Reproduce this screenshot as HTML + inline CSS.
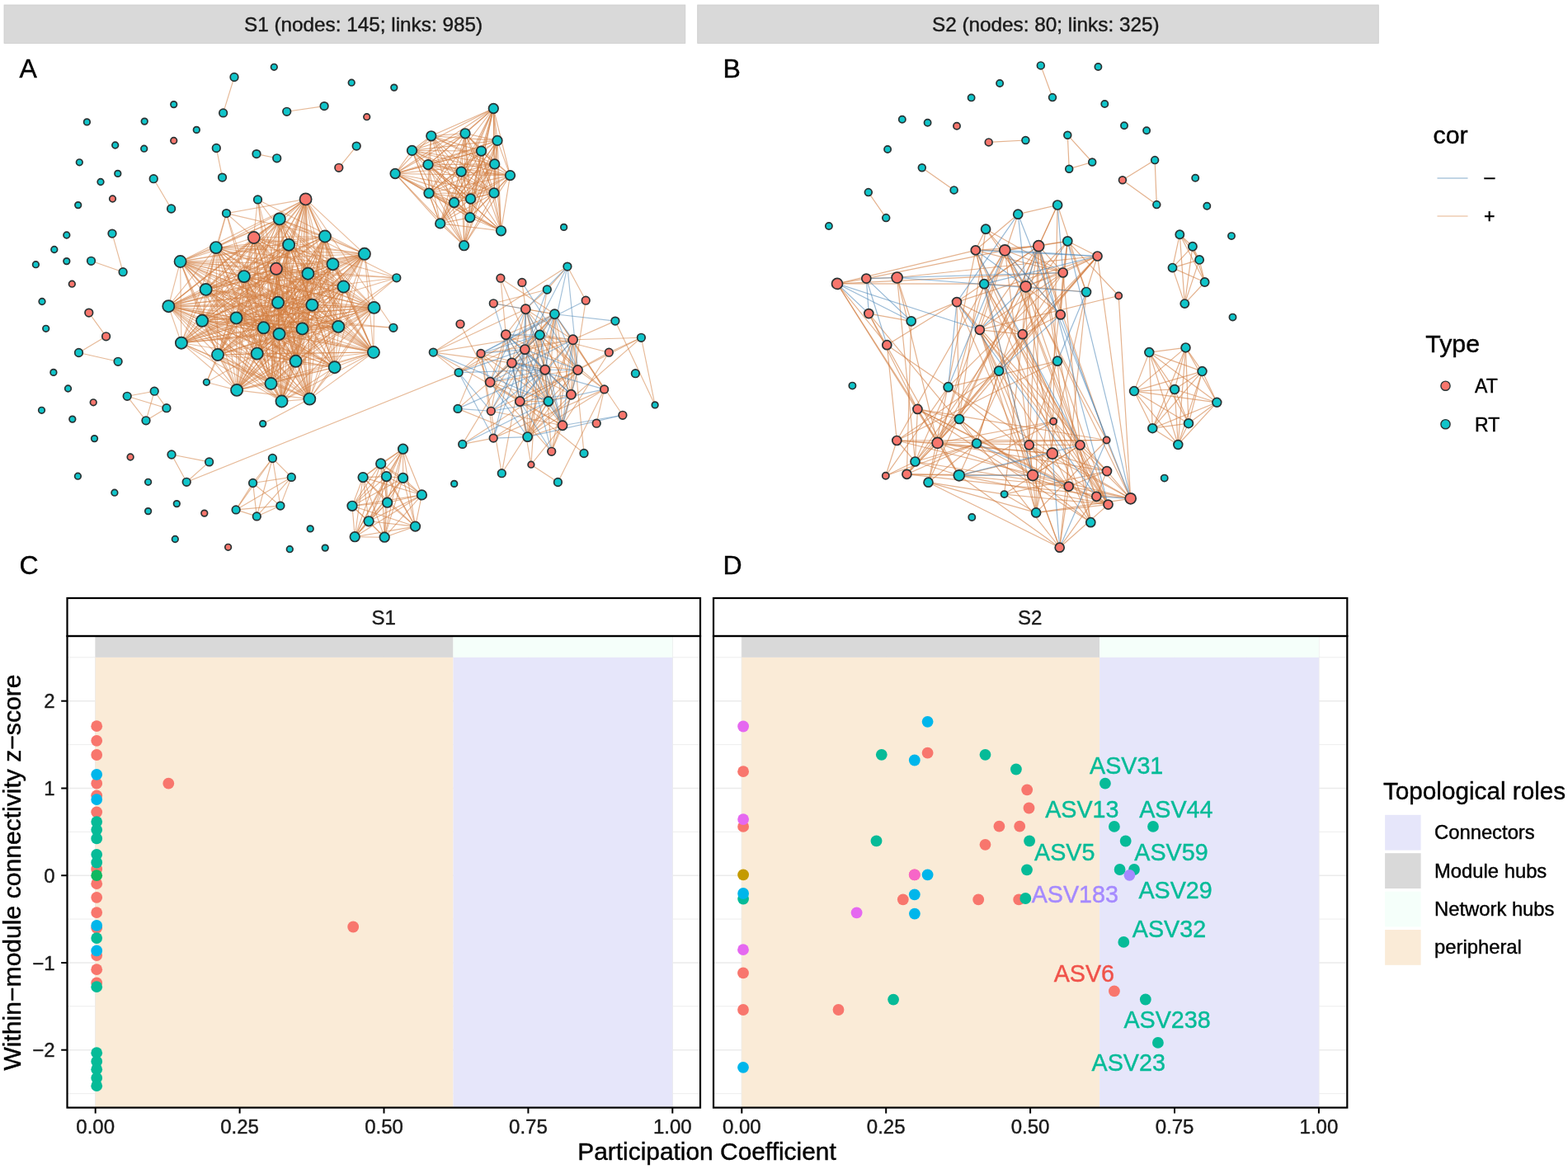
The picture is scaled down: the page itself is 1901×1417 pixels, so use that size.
<!DOCTYPE html>
<html><head><meta charset="utf-8"><title>Network figure</title>
<style>html,body{margin:0;padding:0;background:#fff;width:1901px;height:1417px;overflow:hidden}svg{display:block}</style>
</head><body>
<svg width="1901" height="1417" viewBox="0 0 1901 1417" font-family="'Liberation Sans', Arial, Helvetica, sans-serif">
<rect width="1901" height="1417" fill="#fff"/>
<rect x="5" y="6" width="825.8" height="46.4" fill="#D9D9D9" stroke="#CCCCCC" stroke-width="0.8"/>
<rect x="845.7" y="6" width="825.6" height="46.4" fill="#D9D9D9" stroke="#CCCCCC" stroke-width="0.8"/>
<text x="296" y="37.8" font-size="24.3" fill="#1A1A1A" stroke="#1A1A1A" stroke-width="0.42">S1 (nodes: 145; links: 985)</text>
<text x="1130" y="37.8" font-size="24.3" fill="#1A1A1A" stroke="#1A1A1A" stroke-width="0.42">S2 (nodes: 80; links: 325)</text>
<text x="23.5" y="94" font-size="32" fill="#000" stroke="#000" stroke-width="0.42">A</text>
<text x="876.5" y="94" font-size="32" fill="#000" stroke="#000" stroke-width="0.42">B</text>
<text x="23.5" y="696" font-size="32" fill="#000" stroke="#000" stroke-width="0.42">C</text>
<text x="876.5" y="696" font-size="32" fill="#000" stroke="#000" stroke-width="0.42">D</text>
<g stroke-linecap="round">
<g stroke="#D27F42" stroke-opacity="0.52" stroke-width="1.1" fill="none">
<path d="M312.5 241.9L441.9 307.8"/><path d="M312.5 241.9L338.5 404.9"/><path d="M312.5 241.9L452.9 427"/><path d="M312.5 241.9L287.1 472.9"/><path d="M312.5 241.9L341.5 486.5"/><path d="M312.5 241.9L375.3 483.6"/><path d="M370.6 241.4L274.5 258.6"/><path d="M370.6 241.4L338.8 265.4"/><path d="M370.6 241.4L307.8 288"/><path d="M370.6 241.4L394 286.5"/><path d="M370.6 241.4L261.9 300.1"/><path d="M370.6 241.4L350.1 296.7"/><path d="M370.6 241.4L218.6 317"/><path d="M370.6 241.4L334.9 325.8"/><path d="M370.6 241.4L373.4 331.7"/><path d="M370.6 241.4L295.9 335.1"/><path d="M370.6 241.4L403.5 320.2"/><path d="M370.6 241.4L441.9 307.8"/><path d="M370.6 241.4L249.6 350.9"/><path d="M370.6 241.4L204.3 371.2"/><path d="M370.6 241.4L378.4 369.7"/><path d="M370.6 241.4L416.5 347.5"/><path d="M370.6 241.4L245.1 388.8"/><path d="M370.6 241.4L286.5 385.4"/><path d="M370.6 241.4L319.6 397.3"/><path d="M370.6 241.4L338.5 404.9"/><path d="M370.6 241.4L366.5 398.4"/><path d="M370.6 241.4L410.2 395.9"/><path d="M370.6 241.4L476.9 397.3"/><path d="M370.6 241.4L264 430"/><path d="M370.6 241.4L311.7 428.6"/><path d="M370.6 241.4L358.6 437.8"/><path d="M370.6 241.4L405.7 445.2"/><path d="M370.6 241.4L452.9 427"/><path d="M370.6 241.4L328.5 465"/><path d="M370.6 241.4L287.1 472.9"/><path d="M370.6 241.4L341.5 486.5"/><path d="M370.6 241.4L375.3 483.6"/><path d="M274.5 258.6L307.8 288"/><path d="M274.5 258.6L394 286.5"/><path d="M274.5 258.6L261.9 300.1"/><path d="M274.5 258.6L249.6 350.9"/><path d="M274.5 258.6L319.6 397.3"/><path d="M274.5 258.6L328.5 465"/><path d="M338.8 265.4L307.8 288"/><path d="M338.8 265.4L394 286.5"/><path d="M338.8 265.4L261.9 300.1"/><path d="M338.8 265.4L350.1 296.7"/><path d="M338.8 265.4L218.6 317"/><path d="M338.8 265.4L334.9 325.8"/><path d="M338.8 265.4L373.4 331.7"/><path d="M338.8 265.4L295.9 335.1"/><path d="M338.8 265.4L403.5 320.2"/><path d="M338.8 265.4L441.9 307.8"/><path d="M338.8 265.4L480.8 336.8"/><path d="M338.8 265.4L249.6 350.9"/><path d="M338.8 265.4L204.3 371.2"/><path d="M338.8 265.4L337 366.8"/><path d="M338.8 265.4L378.4 369.7"/><path d="M338.8 265.4L416.5 347.5"/><path d="M338.8 265.4L453.5 372.9"/><path d="M338.8 265.4L245.1 388.8"/><path d="M338.8 265.4L286.5 385.4"/><path d="M338.8 265.4L338.5 404.9"/><path d="M338.8 265.4L366.5 398.4"/><path d="M338.8 265.4L410.2 395.9"/><path d="M338.8 265.4L264 430"/><path d="M338.8 265.4L311.7 428.6"/><path d="M338.8 265.4L358.6 437.8"/><path d="M338.8 265.4L405.7 445.2"/><path d="M338.8 265.4L452.9 427"/><path d="M338.8 265.4L328.5 465"/><path d="M338.8 265.4L287.1 472.9"/><path d="M338.8 265.4L375.3 483.6"/><path d="M307.8 288L394 286.5"/><path d="M307.8 288L350.1 296.7"/><path d="M307.8 288L218.6 317"/><path d="M307.8 288L334.9 325.8"/><path d="M307.8 288L295.9 335.1"/><path d="M307.8 288L403.5 320.2"/><path d="M307.8 288L441.9 307.8"/><path d="M307.8 288L480.8 336.8"/><path d="M307.8 288L249.6 350.9"/><path d="M307.8 288L204.3 371.2"/><path d="M307.8 288L337 366.8"/><path d="M307.8 288L378.4 369.7"/><path d="M307.8 288L416.5 347.5"/><path d="M307.8 288L453.5 372.9"/><path d="M307.8 288L245.1 388.8"/><path d="M307.8 288L286.5 385.4"/><path d="M307.8 288L319.6 397.3"/><path d="M307.8 288L366.5 398.4"/><path d="M307.8 288L410.2 395.9"/><path d="M307.8 288L219.9 415.7"/><path d="M307.8 288L264 430"/><path d="M307.8 288L311.7 428.6"/><path d="M307.8 288L358.6 437.8"/><path d="M307.8 288L405.7 445.2"/><path d="M307.8 288L452.9 427"/><path d="M307.8 288L328.5 465"/><path d="M307.8 288L341.5 486.5"/><path d="M307.8 288L375.3 483.6"/><path d="M394 286.5L261.9 300.1"/><path d="M394 286.5L350.1 296.7"/><path d="M394 286.5L218.6 317"/><path d="M394 286.5L373.4 331.7"/><path d="M394 286.5L295.9 335.1"/><path d="M394 286.5L403.5 320.2"/><path d="M394 286.5L441.9 307.8"/><path d="M394 286.5L249.6 350.9"/><path d="M394 286.5L204.3 371.2"/><path d="M394 286.5L337 366.8"/><path d="M394 286.5L378.4 369.7"/><path d="M394 286.5L416.5 347.5"/><path d="M394 286.5L245.1 388.8"/><path d="M394 286.5L319.6 397.3"/><path d="M394 286.5L338.5 404.9"/><path d="M394 286.5L366.5 398.4"/><path d="M394 286.5L410.2 395.9"/><path d="M394 286.5L219.9 415.7"/><path d="M394 286.5L311.7 428.6"/><path d="M394 286.5L358.6 437.8"/><path d="M394 286.5L405.7 445.2"/><path d="M394 286.5L452.9 427"/><path d="M394 286.5L328.5 465"/><path d="M394 286.5L287.1 472.9"/><path d="M394 286.5L341.5 486.5"/><path d="M394 286.5L375.3 483.6"/><path d="M261.9 300.1L350.1 296.7"/><path d="M261.9 300.1L218.6 317"/><path d="M261.9 300.1L334.9 325.8"/><path d="M261.9 300.1L373.4 331.7"/><path d="M261.9 300.1L403.5 320.2"/><path d="M261.9 300.1L441.9 307.8"/><path d="M261.9 300.1L249.6 350.9"/><path d="M261.9 300.1L204.3 371.2"/><path d="M261.9 300.1L337 366.8"/><path d="M261.9 300.1L378.4 369.7"/><path d="M261.9 300.1L453.5 372.9"/><path d="M261.9 300.1L245.1 388.8"/><path d="M261.9 300.1L286.5 385.4"/><path d="M261.9 300.1L338.5 404.9"/><path d="M261.9 300.1L366.5 398.4"/><path d="M261.9 300.1L410.2 395.9"/><path d="M261.9 300.1L219.9 415.7"/><path d="M261.9 300.1L264 430"/><path d="M261.9 300.1L311.7 428.6"/><path d="M261.9 300.1L358.6 437.8"/><path d="M261.9 300.1L452.9 427"/><path d="M261.9 300.1L328.5 465"/><path d="M261.9 300.1L287.1 472.9"/><path d="M261.9 300.1L341.5 486.5"/><path d="M261.9 300.1L375.3 483.6"/><path d="M350.1 296.7L218.6 317"/><path d="M350.1 296.7L334.9 325.8"/><path d="M350.1 296.7L373.4 331.7"/><path d="M350.1 296.7L295.9 335.1"/><path d="M350.1 296.7L403.5 320.2"/><path d="M350.1 296.7L441.9 307.8"/><path d="M350.1 296.7L249.6 350.9"/><path d="M350.1 296.7L204.3 371.2"/><path d="M350.1 296.7L337 366.8"/><path d="M350.1 296.7L378.4 369.7"/><path d="M350.1 296.7L416.5 347.5"/><path d="M350.1 296.7L245.1 388.8"/><path d="M350.1 296.7L286.5 385.4"/><path d="M350.1 296.7L319.6 397.3"/><path d="M350.1 296.7L338.5 404.9"/><path d="M350.1 296.7L410.2 395.9"/><path d="M350.1 296.7L219.9 415.7"/><path d="M350.1 296.7L264 430"/><path d="M350.1 296.7L311.7 428.6"/><path d="M350.1 296.7L358.6 437.8"/><path d="M350.1 296.7L405.7 445.2"/><path d="M350.1 296.7L452.9 427"/><path d="M350.1 296.7L328.5 465"/><path d="M350.1 296.7L341.5 486.5"/><path d="M350.1 296.7L375.3 483.6"/><path d="M218.6 317L334.9 325.8"/><path d="M218.6 317L373.4 331.7"/><path d="M218.6 317L295.9 335.1"/><path d="M218.6 317L403.5 320.2"/><path d="M218.6 317L441.9 307.8"/><path d="M218.6 317L249.6 350.9"/><path d="M218.6 317L204.3 371.2"/><path d="M218.6 317L337 366.8"/><path d="M218.6 317L378.4 369.7"/><path d="M218.6 317L416.5 347.5"/><path d="M218.6 317L453.5 372.9"/><path d="M218.6 317L245.1 388.8"/><path d="M218.6 317L286.5 385.4"/><path d="M218.6 317L319.6 397.3"/><path d="M218.6 317L338.5 404.9"/><path d="M218.6 317L366.5 398.4"/><path d="M218.6 317L410.2 395.9"/><path d="M218.6 317L219.9 415.7"/><path d="M218.6 317L264 430"/><path d="M218.6 317L405.7 445.2"/><path d="M218.6 317L452.9 427"/><path d="M218.6 317L328.5 465"/><path d="M218.6 317L287.1 472.9"/><path d="M218.6 317L375.3 483.6"/><path d="M334.9 325.8L373.4 331.7"/><path d="M334.9 325.8L295.9 335.1"/><path d="M334.9 325.8L441.9 307.8"/><path d="M334.9 325.8L480.8 336.8"/><path d="M334.9 325.8L249.6 350.9"/><path d="M334.9 325.8L204.3 371.2"/><path d="M334.9 325.8L337 366.8"/><path d="M334.9 325.8L378.4 369.7"/><path d="M334.9 325.8L416.5 347.5"/><path d="M334.9 325.8L453.5 372.9"/><path d="M334.9 325.8L245.1 388.8"/><path d="M334.9 325.8L286.5 385.4"/><path d="M334.9 325.8L319.6 397.3"/><path d="M334.9 325.8L338.5 404.9"/><path d="M334.9 325.8L410.2 395.9"/><path d="M334.9 325.8L219.9 415.7"/><path d="M334.9 325.8L264 430"/><path d="M334.9 325.8L311.7 428.6"/><path d="M334.9 325.8L358.6 437.8"/><path d="M334.9 325.8L405.7 445.2"/><path d="M334.9 325.8L452.9 427"/><path d="M334.9 325.8L328.5 465"/><path d="M334.9 325.8L287.1 472.9"/><path d="M334.9 325.8L341.5 486.5"/><path d="M334.9 325.8L375.3 483.6"/><path d="M373.4 331.7L403.5 320.2"/><path d="M373.4 331.7L441.9 307.8"/><path d="M373.4 331.7L480.8 336.8"/><path d="M373.4 331.7L204.3 371.2"/><path d="M373.4 331.7L337 366.8"/><path d="M373.4 331.7L378.4 369.7"/><path d="M373.4 331.7L416.5 347.5"/><path d="M373.4 331.7L453.5 372.9"/><path d="M373.4 331.7L245.1 388.8"/><path d="M373.4 331.7L286.5 385.4"/><path d="M373.4 331.7L319.6 397.3"/><path d="M373.4 331.7L338.5 404.9"/><path d="M373.4 331.7L366.5 398.4"/><path d="M373.4 331.7L219.9 415.7"/><path d="M373.4 331.7L264 430"/><path d="M373.4 331.7L311.7 428.6"/><path d="M373.4 331.7L358.6 437.8"/><path d="M373.4 331.7L405.7 445.2"/><path d="M373.4 331.7L452.9 427"/><path d="M373.4 331.7L328.5 465"/><path d="M373.4 331.7L287.1 472.9"/><path d="M373.4 331.7L341.5 486.5"/><path d="M373.4 331.7L375.3 483.6"/><path d="M295.9 335.1L441.9 307.8"/><path d="M295.9 335.1L249.6 350.9"/><path d="M295.9 335.1L204.3 371.2"/><path d="M295.9 335.1L416.5 347.5"/><path d="M295.9 335.1L453.5 372.9"/><path d="M295.9 335.1L286.5 385.4"/><path d="M295.9 335.1L319.6 397.3"/><path d="M295.9 335.1L338.5 404.9"/><path d="M295.9 335.1L366.5 398.4"/><path d="M295.9 335.1L410.2 395.9"/><path d="M295.9 335.1L219.9 415.7"/><path d="M295.9 335.1L264 430"/><path d="M295.9 335.1L311.7 428.6"/><path d="M295.9 335.1L358.6 437.8"/><path d="M295.9 335.1L405.7 445.2"/><path d="M295.9 335.1L452.9 427"/><path d="M295.9 335.1L328.5 465"/><path d="M295.9 335.1L287.1 472.9"/><path d="M295.9 335.1L375.3 483.6"/><path d="M403.5 320.2L441.9 307.8"/><path d="M403.5 320.2L249.6 350.9"/><path d="M403.5 320.2L204.3 371.2"/><path d="M403.5 320.2L378.4 369.7"/><path d="M403.5 320.2L453.5 372.9"/><path d="M403.5 320.2L245.1 388.8"/><path d="M403.5 320.2L319.6 397.3"/><path d="M403.5 320.2L338.5 404.9"/><path d="M403.5 320.2L366.5 398.4"/><path d="M403.5 320.2L264 430"/><path d="M403.5 320.2L311.7 428.6"/><path d="M403.5 320.2L405.7 445.2"/><path d="M403.5 320.2L452.9 427"/><path d="M403.5 320.2L287.1 472.9"/><path d="M403.5 320.2L341.5 486.5"/><path d="M441.9 307.8L249.6 350.9"/><path d="M441.9 307.8L204.3 371.2"/><path d="M441.9 307.8L337 366.8"/><path d="M441.9 307.8L378.4 369.7"/><path d="M441.9 307.8L416.5 347.5"/><path d="M441.9 307.8L453.5 372.9"/><path d="M441.9 307.8L245.1 388.8"/><path d="M441.9 307.8L286.5 385.4"/><path d="M441.9 307.8L319.6 397.3"/><path d="M441.9 307.8L338.5 404.9"/><path d="M441.9 307.8L366.5 398.4"/><path d="M441.9 307.8L410.2 395.9"/><path d="M441.9 307.8L219.9 415.7"/><path d="M441.9 307.8L264 430"/><path d="M441.9 307.8L311.7 428.6"/><path d="M441.9 307.8L358.6 437.8"/><path d="M441.9 307.8L405.7 445.2"/><path d="M441.9 307.8L452.9 427"/><path d="M441.9 307.8L328.5 465"/><path d="M441.9 307.8L287.1 472.9"/><path d="M441.9 307.8L341.5 486.5"/><path d="M480.8 336.8L204.3 371.2"/><path d="M480.8 336.8L410.2 395.9"/><path d="M480.8 336.8L219.9 415.7"/><path d="M480.8 336.8L287.1 472.9"/><path d="M249.6 350.9L204.3 371.2"/><path d="M249.6 350.9L337 366.8"/><path d="M249.6 350.9L378.4 369.7"/><path d="M249.6 350.9L453.5 372.9"/><path d="M249.6 350.9L245.1 388.8"/><path d="M249.6 350.9L286.5 385.4"/><path d="M249.6 350.9L319.6 397.3"/><path d="M249.6 350.9L338.5 404.9"/><path d="M249.6 350.9L366.5 398.4"/><path d="M249.6 350.9L410.2 395.9"/><path d="M249.6 350.9L219.9 415.7"/><path d="M249.6 350.9L311.7 428.6"/><path d="M249.6 350.9L358.6 437.8"/><path d="M249.6 350.9L405.7 445.2"/><path d="M249.6 350.9L287.1 472.9"/><path d="M249.6 350.9L341.5 486.5"/><path d="M204.3 371.2L337 366.8"/><path d="M204.3 371.2L378.4 369.7"/><path d="M204.3 371.2L416.5 347.5"/><path d="M204.3 371.2L453.5 372.9"/><path d="M204.3 371.2L245.1 388.8"/><path d="M204.3 371.2L286.5 385.4"/><path d="M204.3 371.2L319.6 397.3"/><path d="M204.3 371.2L338.5 404.9"/><path d="M204.3 371.2L366.5 398.4"/><path d="M204.3 371.2L476.9 397.3"/><path d="M204.3 371.2L219.9 415.7"/><path d="M204.3 371.2L264 430"/><path d="M204.3 371.2L311.7 428.6"/><path d="M204.3 371.2L358.6 437.8"/><path d="M204.3 371.2L405.7 445.2"/><path d="M204.3 371.2L452.9 427"/><path d="M204.3 371.2L328.5 465"/><path d="M204.3 371.2L287.1 472.9"/><path d="M204.3 371.2L341.5 486.5"/><path d="M204.3 371.2L375.3 483.6"/><path d="M337 366.8L378.4 369.7"/><path d="M337 366.8L416.5 347.5"/><path d="M337 366.8L453.5 372.9"/><path d="M337 366.8L286.5 385.4"/><path d="M337 366.8L319.6 397.3"/><path d="M337 366.8L338.5 404.9"/><path d="M337 366.8L366.5 398.4"/><path d="M337 366.8L410.2 395.9"/><path d="M337 366.8L219.9 415.7"/><path d="M337 366.8L264 430"/><path d="M337 366.8L311.7 428.6"/><path d="M337 366.8L358.6 437.8"/><path d="M337 366.8L405.7 445.2"/><path d="M337 366.8L452.9 427"/><path d="M337 366.8L328.5 465"/><path d="M337 366.8L341.5 486.5"/><path d="M337 366.8L375.3 483.6"/><path d="M378.4 369.7L453.5 372.9"/><path d="M378.4 369.7L245.1 388.8"/><path d="M378.4 369.7L286.5 385.4"/><path d="M378.4 369.7L338.5 404.9"/><path d="M378.4 369.7L366.5 398.4"/><path d="M378.4 369.7L410.2 395.9"/><path d="M378.4 369.7L219.9 415.7"/><path d="M378.4 369.7L264 430"/><path d="M378.4 369.7L311.7 428.6"/><path d="M378.4 369.7L358.6 437.8"/><path d="M378.4 369.7L405.7 445.2"/><path d="M378.4 369.7L452.9 427"/><path d="M378.4 369.7L328.5 465"/><path d="M378.4 369.7L287.1 472.9"/><path d="M378.4 369.7L341.5 486.5"/><path d="M378.4 369.7L375.3 483.6"/><path d="M416.5 347.5L453.5 372.9"/><path d="M416.5 347.5L245.1 388.8"/><path d="M416.5 347.5L286.5 385.4"/><path d="M416.5 347.5L319.6 397.3"/><path d="M416.5 347.5L338.5 404.9"/><path d="M416.5 347.5L366.5 398.4"/><path d="M416.5 347.5L410.2 395.9"/><path d="M416.5 347.5L219.9 415.7"/><path d="M416.5 347.5L358.6 437.8"/><path d="M416.5 347.5L405.7 445.2"/><path d="M416.5 347.5L452.9 427"/><path d="M416.5 347.5L287.1 472.9"/><path d="M416.5 347.5L341.5 486.5"/><path d="M416.5 347.5L375.3 483.6"/><path d="M453.5 372.9L245.1 388.8"/><path d="M453.5 372.9L286.5 385.4"/><path d="M453.5 372.9L319.6 397.3"/><path d="M453.5 372.9L366.5 398.4"/><path d="M453.5 372.9L410.2 395.9"/><path d="M453.5 372.9L219.9 415.7"/><path d="M453.5 372.9L264 430"/><path d="M453.5 372.9L311.7 428.6"/><path d="M453.5 372.9L358.6 437.8"/><path d="M453.5 372.9L405.7 445.2"/><path d="M453.5 372.9L452.9 427"/><path d="M453.5 372.9L328.5 465"/><path d="M453.5 372.9L287.1 472.9"/><path d="M453.5 372.9L341.5 486.5"/><path d="M453.5 372.9L375.3 483.6"/><path d="M245.1 388.8L286.5 385.4"/><path d="M245.1 388.8L319.6 397.3"/><path d="M245.1 388.8L338.5 404.9"/><path d="M245.1 388.8L366.5 398.4"/><path d="M245.1 388.8L410.2 395.9"/><path d="M245.1 388.8L219.9 415.7"/><path d="M245.1 388.8L264 430"/><path d="M245.1 388.8L311.7 428.6"/><path d="M245.1 388.8L358.6 437.8"/><path d="M245.1 388.8L405.7 445.2"/><path d="M245.1 388.8L452.9 427"/><path d="M245.1 388.8L328.5 465"/><path d="M245.1 388.8L287.1 472.9"/><path d="M245.1 388.8L341.5 486.5"/><path d="M245.1 388.8L375.3 483.6"/><path d="M286.5 385.4L319.6 397.3"/><path d="M286.5 385.4L338.5 404.9"/><path d="M286.5 385.4L366.5 398.4"/><path d="M286.5 385.4L410.2 395.9"/><path d="M286.5 385.4L476.9 397.3"/><path d="M286.5 385.4L219.9 415.7"/><path d="M286.5 385.4L264 430"/><path d="M286.5 385.4L311.7 428.6"/><path d="M286.5 385.4L358.6 437.8"/><path d="M286.5 385.4L405.7 445.2"/><path d="M286.5 385.4L452.9 427"/><path d="M286.5 385.4L287.1 472.9"/><path d="M286.5 385.4L341.5 486.5"/><path d="M286.5 385.4L375.3 483.6"/><path d="M319.6 397.3L338.5 404.9"/><path d="M319.6 397.3L366.5 398.4"/><path d="M319.6 397.3L410.2 395.9"/><path d="M319.6 397.3L219.9 415.7"/><path d="M319.6 397.3L264 430"/><path d="M319.6 397.3L311.7 428.6"/><path d="M319.6 397.3L358.6 437.8"/><path d="M319.6 397.3L405.7 445.2"/><path d="M319.6 397.3L328.5 465"/><path d="M319.6 397.3L287.1 472.9"/><path d="M319.6 397.3L341.5 486.5"/><path d="M319.6 397.3L375.3 483.6"/><path d="M338.5 404.9L366.5 398.4"/><path d="M338.5 404.9L410.2 395.9"/><path d="M338.5 404.9L219.9 415.7"/><path d="M338.5 404.9L264 430"/><path d="M338.5 404.9L311.7 428.6"/><path d="M338.5 404.9L358.6 437.8"/><path d="M338.5 404.9L405.7 445.2"/><path d="M338.5 404.9L452.9 427"/><path d="M338.5 404.9L328.5 465"/><path d="M338.5 404.9L287.1 472.9"/><path d="M338.5 404.9L341.5 486.5"/><path d="M338.5 404.9L375.3 483.6"/><path d="M366.5 398.4L410.2 395.9"/><path d="M366.5 398.4L219.9 415.7"/><path d="M366.5 398.4L264 430"/><path d="M366.5 398.4L311.7 428.6"/><path d="M366.5 398.4L358.6 437.8"/><path d="M366.5 398.4L405.7 445.2"/><path d="M366.5 398.4L452.9 427"/><path d="M366.5 398.4L328.5 465"/><path d="M366.5 398.4L287.1 472.9"/><path d="M366.5 398.4L341.5 486.5"/><path d="M366.5 398.4L375.3 483.6"/><path d="M410.2 395.9L219.9 415.7"/><path d="M410.2 395.9L264 430"/><path d="M410.2 395.9L311.7 428.6"/><path d="M410.2 395.9L358.6 437.8"/><path d="M410.2 395.9L452.9 427"/><path d="M410.2 395.9L328.5 465"/><path d="M410.2 395.9L287.1 472.9"/><path d="M410.2 395.9L375.3 483.6"/><path d="M219.9 415.7L358.6 437.8"/><path d="M219.9 415.7L328.5 465"/><path d="M219.9 415.7L287.1 472.9"/><path d="M219.9 415.7L341.5 486.5"/><path d="M219.9 415.7L375.3 483.6"/><path d="M264 430L311.7 428.6"/><path d="M264 430L405.7 445.2"/><path d="M264 430L452.9 427"/><path d="M264 430L328.5 465"/><path d="M264 430L287.1 472.9"/><path d="M264 430L341.5 486.5"/><path d="M264 430L375.3 483.6"/><path d="M311.7 428.6L358.6 437.8"/><path d="M311.7 428.6L405.7 445.2"/><path d="M311.7 428.6L452.9 427"/><path d="M311.7 428.6L328.5 465"/><path d="M311.7 428.6L287.1 472.9"/><path d="M311.7 428.6L341.5 486.5"/><path d="M311.7 428.6L375.3 483.6"/><path d="M358.6 437.8L405.7 445.2"/><path d="M358.6 437.8L452.9 427"/><path d="M358.6 437.8L328.5 465"/><path d="M358.6 437.8L287.1 472.9"/><path d="M358.6 437.8L341.5 486.5"/><path d="M358.6 437.8L375.3 483.6"/><path d="M405.7 445.2L452.9 427"/><path d="M405.7 445.2L328.5 465"/><path d="M405.7 445.2L287.1 472.9"/><path d="M405.7 445.2L341.5 486.5"/><path d="M405.7 445.2L375.3 483.6"/><path d="M452.9 427L328.5 465"/><path d="M452.9 427L287.1 472.9"/><path d="M452.9 427L341.5 486.5"/><path d="M452.9 427L375.3 483.6"/><path d="M328.5 465L287.1 472.9"/><path d="M328.5 465L341.5 486.5"/><path d="M328.5 465L375.3 483.6"/><path d="M287.1 472.9L375.3 483.6"/><path d="M341.5 486.5L375.3 483.6"/><path d="M250.4 463.3L264 430"/><path d="M250.4 463.3L311.7 428.6"/><path d="M250.4 463.3L286.5 385.4"/><path d="M250.4 463.3L287.1 472.9"/>
</g>
<g stroke="#4682B4" stroke-opacity="0.45" stroke-width="1.1" fill="none">

</g>
<g stroke="#D27F42" stroke-opacity="0.6" stroke-width="1.1" fill="none">
<path d="M598.3 131.5L522.8 164.8"/><path d="M598.3 131.5L564 161.8"/><path d="M598.3 131.5L603 170.4"/><path d="M598.3 131.5L499.5 182.4"/><path d="M598.3 131.5L583.5 183.1"/><path d="M598.3 131.5L519 199.6"/><path d="M598.3 131.5L599.7 198.9"/><path d="M598.3 131.5L559.2 208.1"/><path d="M598.3 131.5L479.1 210.5"/><path d="M598.3 131.5L618.5 212.6"/><path d="M598.3 131.5L520 234.2"/><path d="M598.3 131.5L599 233.9"/><path d="M598.3 131.5L570.5 241"/><path d="M598.3 131.5L550.6 245.5"/><path d="M598.3 131.5L569.8 263.6"/><path d="M598.3 131.5L533.7 270.9"/><path d="M598.3 131.5L607.5 279.8"/><path d="M598.3 131.5L562.6 297.7"/><path d="M522.8 164.8L564 161.8"/><path d="M522.8 164.8L603 170.4"/><path d="M522.8 164.8L499.5 182.4"/><path d="M522.8 164.8L583.5 183.1"/><path d="M522.8 164.8L519 199.6"/><path d="M522.8 164.8L599.7 198.9"/><path d="M522.8 164.8L559.2 208.1"/><path d="M522.8 164.8L479.1 210.5"/><path d="M522.8 164.8L618.5 212.6"/><path d="M522.8 164.8L520 234.2"/><path d="M522.8 164.8L599 233.9"/><path d="M522.8 164.8L570.5 241"/><path d="M522.8 164.8L569.8 263.6"/><path d="M522.8 164.8L562.6 297.7"/><path d="M564 161.8L603 170.4"/><path d="M564 161.8L499.5 182.4"/><path d="M564 161.8L583.5 183.1"/><path d="M564 161.8L519 199.6"/><path d="M564 161.8L599.7 198.9"/><path d="M564 161.8L559.2 208.1"/><path d="M564 161.8L479.1 210.5"/><path d="M564 161.8L618.5 212.6"/><path d="M564 161.8L520 234.2"/><path d="M564 161.8L599 233.9"/><path d="M564 161.8L570.5 241"/><path d="M564 161.8L550.6 245.5"/><path d="M564 161.8L569.8 263.6"/><path d="M564 161.8L533.7 270.9"/><path d="M564 161.8L607.5 279.8"/><path d="M564 161.8L562.6 297.7"/><path d="M603 170.4L499.5 182.4"/><path d="M603 170.4L583.5 183.1"/><path d="M603 170.4L519 199.6"/><path d="M603 170.4L599.7 198.9"/><path d="M603 170.4L479.1 210.5"/><path d="M603 170.4L618.5 212.6"/><path d="M603 170.4L520 234.2"/><path d="M603 170.4L599 233.9"/><path d="M603 170.4L570.5 241"/><path d="M603 170.4L550.6 245.5"/><path d="M603 170.4L569.8 263.6"/><path d="M603 170.4L533.7 270.9"/><path d="M603 170.4L607.5 279.8"/><path d="M603 170.4L562.6 297.7"/><path d="M499.5 182.4L583.5 183.1"/><path d="M499.5 182.4L519 199.6"/><path d="M499.5 182.4L599.7 198.9"/><path d="M499.5 182.4L559.2 208.1"/><path d="M499.5 182.4L479.1 210.5"/><path d="M499.5 182.4L618.5 212.6"/><path d="M499.5 182.4L520 234.2"/><path d="M499.5 182.4L599 233.9"/><path d="M499.5 182.4L570.5 241"/><path d="M499.5 182.4L569.8 263.6"/><path d="M499.5 182.4L533.7 270.9"/><path d="M499.5 182.4L607.5 279.8"/><path d="M499.5 182.4L562.6 297.7"/><path d="M583.5 183.1L519 199.6"/><path d="M583.5 183.1L599.7 198.9"/><path d="M583.5 183.1L559.2 208.1"/><path d="M583.5 183.1L479.1 210.5"/><path d="M583.5 183.1L618.5 212.6"/><path d="M583.5 183.1L520 234.2"/><path d="M583.5 183.1L599 233.9"/><path d="M583.5 183.1L570.5 241"/><path d="M583.5 183.1L569.8 263.6"/><path d="M583.5 183.1L533.7 270.9"/><path d="M583.5 183.1L607.5 279.8"/><path d="M519 199.6L599.7 198.9"/><path d="M519 199.6L559.2 208.1"/><path d="M519 199.6L479.1 210.5"/><path d="M519 199.6L618.5 212.6"/><path d="M519 199.6L520 234.2"/><path d="M519 199.6L599 233.9"/><path d="M519 199.6L570.5 241"/><path d="M519 199.6L569.8 263.6"/><path d="M519 199.6L533.7 270.9"/><path d="M519 199.6L607.5 279.8"/><path d="M519 199.6L562.6 297.7"/><path d="M599.7 198.9L559.2 208.1"/><path d="M599.7 198.9L479.1 210.5"/><path d="M599.7 198.9L520 234.2"/><path d="M599.7 198.9L599 233.9"/><path d="M599.7 198.9L570.5 241"/><path d="M599.7 198.9L550.6 245.5"/><path d="M599.7 198.9L569.8 263.6"/><path d="M599.7 198.9L533.7 270.9"/><path d="M599.7 198.9L607.5 279.8"/><path d="M599.7 198.9L562.6 297.7"/><path d="M559.2 208.1L618.5 212.6"/><path d="M559.2 208.1L520 234.2"/><path d="M559.2 208.1L599 233.9"/><path d="M559.2 208.1L570.5 241"/><path d="M559.2 208.1L533.7 270.9"/><path d="M559.2 208.1L607.5 279.8"/><path d="M559.2 208.1L562.6 297.7"/><path d="M479.1 210.5L618.5 212.6"/><path d="M479.1 210.5L520 234.2"/><path d="M479.1 210.5L599 233.9"/><path d="M479.1 210.5L570.5 241"/><path d="M479.1 210.5L550.6 245.5"/><path d="M479.1 210.5L569.8 263.6"/><path d="M479.1 210.5L533.7 270.9"/><path d="M479.1 210.5L607.5 279.8"/><path d="M479.1 210.5L562.6 297.7"/><path d="M618.5 212.6L520 234.2"/><path d="M618.5 212.6L599 233.9"/><path d="M618.5 212.6L570.5 241"/><path d="M618.5 212.6L550.6 245.5"/><path d="M618.5 212.6L569.8 263.6"/><path d="M618.5 212.6L607.5 279.8"/><path d="M618.5 212.6L562.6 297.7"/><path d="M520 234.2L599 233.9"/><path d="M520 234.2L570.5 241"/><path d="M520 234.2L550.6 245.5"/><path d="M520 234.2L569.8 263.6"/><path d="M520 234.2L533.7 270.9"/><path d="M520 234.2L607.5 279.8"/><path d="M520 234.2L562.6 297.7"/><path d="M599 233.9L570.5 241"/><path d="M599 233.9L550.6 245.5"/><path d="M599 233.9L569.8 263.6"/><path d="M599 233.9L533.7 270.9"/><path d="M599 233.9L607.5 279.8"/><path d="M599 233.9L562.6 297.7"/><path d="M570.5 241L550.6 245.5"/><path d="M570.5 241L569.8 263.6"/><path d="M570.5 241L533.7 270.9"/><path d="M570.5 241L562.6 297.7"/><path d="M550.6 245.5L569.8 263.6"/><path d="M550.6 245.5L533.7 270.9"/><path d="M550.6 245.5L607.5 279.8"/><path d="M569.8 263.6L533.7 270.9"/><path d="M569.8 263.6L607.5 279.8"/><path d="M533.7 270.9L607.5 279.8"/><path d="M533.7 270.9L562.6 297.7"/><path d="M488.6 544.2L461.7 562"/><path d="M488.6 544.2L440.1 578.6"/><path d="M488.6 544.2L468.5 577.6"/><path d="M488.6 544.2L488.6 579.4"/><path d="M488.6 544.2L511.4 599.9"/><path d="M488.6 544.2L427 613.3"/><path d="M488.6 544.2L469.6 609.2"/><path d="M488.6 544.2L447.1 631.8"/><path d="M488.6 544.2L503.5 638.1"/><path d="M488.6 544.2L430.2 650.7"/><path d="M488.6 544.2L466.2 651.2"/><path d="M461.7 562L440.1 578.6"/><path d="M461.7 562L468.5 577.6"/><path d="M461.7 562L488.6 579.4"/><path d="M461.7 562L511.4 599.9"/><path d="M461.7 562L427 613.3"/><path d="M461.7 562L469.6 609.2"/><path d="M461.7 562L503.5 638.1"/><path d="M461.7 562L430.2 650.7"/><path d="M461.7 562L466.2 651.2"/><path d="M440.1 578.6L468.5 577.6"/><path d="M440.1 578.6L511.4 599.9"/><path d="M440.1 578.6L427 613.3"/><path d="M440.1 578.6L469.6 609.2"/><path d="M440.1 578.6L447.1 631.8"/><path d="M440.1 578.6L503.5 638.1"/><path d="M440.1 578.6L430.2 650.7"/><path d="M440.1 578.6L466.2 651.2"/><path d="M468.5 577.6L488.6 579.4"/><path d="M468.5 577.6L511.4 599.9"/><path d="M468.5 577.6L427 613.3"/><path d="M468.5 577.6L469.6 609.2"/><path d="M468.5 577.6L447.1 631.8"/><path d="M468.5 577.6L503.5 638.1"/><path d="M468.5 577.6L430.2 650.7"/><path d="M468.5 577.6L466.2 651.2"/><path d="M488.6 579.4L511.4 599.9"/><path d="M488.6 579.4L427 613.3"/><path d="M488.6 579.4L469.6 609.2"/><path d="M488.6 579.4L447.1 631.8"/><path d="M488.6 579.4L503.5 638.1"/><path d="M488.6 579.4L430.2 650.7"/><path d="M488.6 579.4L466.2 651.2"/><path d="M511.4 599.9L427 613.3"/><path d="M511.4 599.9L469.6 609.2"/><path d="M511.4 599.9L447.1 631.8"/><path d="M511.4 599.9L503.5 638.1"/><path d="M511.4 599.9L430.2 650.7"/><path d="M511.4 599.9L466.2 651.2"/><path d="M427 613.3L469.6 609.2"/><path d="M427 613.3L447.1 631.8"/><path d="M427 613.3L503.5 638.1"/><path d="M427 613.3L430.2 650.7"/><path d="M427 613.3L466.2 651.2"/><path d="M469.6 609.2L447.1 631.8"/><path d="M469.6 609.2L503.5 638.1"/><path d="M469.6 609.2L430.2 650.7"/><path d="M469.6 609.2L466.2 651.2"/><path d="M447.1 631.8L503.5 638.1"/><path d="M447.1 631.8L430.2 650.7"/><path d="M447.1 631.8L466.2 651.2"/><path d="M503.5 638.1L430.2 650.7"/><path d="M503.5 638.1L466.2 651.2"/><path d="M430.2 650.7L466.2 651.2"/>
</g>
<g stroke="#4682B4" stroke-opacity="0.45" stroke-width="1.1" fill="none">

</g>
<g stroke="#D27F42" stroke-opacity="0.55" stroke-width="1.15" fill="none">
<path d="M606.9 337.2L672.4 380.7"/><path d="M606.9 337.2L613.3 405.7"/><path d="M606.9 337.2L682 515.7"/><path d="M632.9 342.4L637.3 374.7"/><path d="M663.3 351L598.3 367.8"/><path d="M663.3 351L637.3 374.7"/><path d="M663.3 351L654.4 406"/><path d="M598.3 367.8L672.4 380.7"/><path d="M637.3 374.7L672.4 380.7"/><path d="M637.3 374.7L613.3 405.7"/><path d="M637.3 374.7L694.6 411.8"/><path d="M637.3 374.7L620.5 439.9"/><path d="M637.3 374.7L700.5 448.5"/><path d="M637.3 374.7L664.9 486.5"/><path d="M637.3 374.7L692.4 478.3"/><path d="M637.3 374.7L682 515.7"/><path d="M637.3 374.7L639.6 529.6"/><path d="M637.3 374.7L525.3 427.1"/><path d="M672.4 380.7L613.3 405.7"/><path d="M672.4 380.7L636.3 423.6"/><path d="M672.4 380.7L620.5 439.9"/><path d="M672.4 380.7L660.8 448.2"/><path d="M672.4 380.7L556.1 451.6"/><path d="M672.4 380.7L594.2 463.3"/><path d="M672.4 380.7L664.9 486.5"/><path d="M672.4 380.7L692.4 478.3"/><path d="M672.4 380.7L595.3 498.3"/><path d="M672.4 380.7L682 515.7"/><path d="M672.4 380.7L639.6 529.6"/><path d="M672.4 380.7L732.6 471.9"/><path d="M672.4 380.7L754.9 503.3"/><path d="M558 392.8L594.2 463.3"/><path d="M613.3 405.7L694.6 411.8"/><path d="M613.3 405.7L636.3 423.6"/><path d="M613.3 405.7L620.5 439.9"/><path d="M613.3 405.7L700.5 448.5"/><path d="M613.3 405.7L594.2 463.3"/><path d="M613.3 405.7L664.9 486.5"/><path d="M613.3 405.7L595.3 498.3"/><path d="M613.3 405.7L639.6 529.6"/><path d="M654.4 406L694.6 411.8"/><path d="M654.4 406L636.3 423.6"/><path d="M654.4 406L620.5 439.9"/><path d="M654.4 406L660.8 448.2"/><path d="M654.4 406L700.5 448.5"/><path d="M654.4 406L556.1 451.6"/><path d="M654.4 406L630.3 486.5"/><path d="M654.4 406L664.9 486.5"/><path d="M654.4 406L692.4 478.3"/><path d="M654.4 406L639.6 529.6"/><path d="M654.4 406L643.9 563.2"/><path d="M654.4 406L738.3 427.2"/><path d="M654.4 406L732.6 471.9"/><path d="M654.4 406L525.3 427.1"/><path d="M694.6 411.8L583 428.5"/><path d="M694.6 411.8L636.3 423.6"/><path d="M694.6 411.8L620.5 439.9"/><path d="M694.6 411.8L660.8 448.2"/><path d="M694.6 411.8L700.5 448.5"/><path d="M694.6 411.8L664.9 486.5"/><path d="M694.6 411.8L692.4 478.3"/><path d="M694.6 411.8L639.6 529.6"/><path d="M694.6 411.8L668.7 547.3"/><path d="M694.6 411.8L745.9 389.1"/><path d="M694.6 411.8L777.4 409.3"/><path d="M694.6 411.8L732.6 471.9"/><path d="M694.6 411.8L708 549.5"/><path d="M583 428.5L660.8 448.2"/><path d="M583 428.5L556.1 451.6"/><path d="M583 428.5L630.3 486.5"/><path d="M583 428.5L664.9 486.5"/><path d="M583 428.5L555 495.4"/><path d="M583 428.5L595.3 498.3"/><path d="M583 428.5L598.2 531.1"/><path d="M636.3 423.6L620.5 439.9"/><path d="M636.3 423.6L594.2 463.3"/><path d="M636.3 423.6L664.9 486.5"/><path d="M636.3 423.6L692.4 478.3"/><path d="M636.3 423.6L608.3 573.7"/><path d="M620.5 439.9L700.5 448.5"/><path d="M620.5 439.9L594.2 463.3"/><path d="M620.5 439.9L664.9 486.5"/><path d="M620.5 439.9L692.4 478.3"/><path d="M620.5 439.9L555 495.4"/><path d="M620.5 439.9L682 515.7"/><path d="M620.5 439.9L639.6 529.6"/><path d="M620.5 439.9L560.7 538.4"/><path d="M620.5 439.9L525.3 427.1"/><path d="M660.8 448.2L639.6 529.6"/><path d="M660.8 448.2L668.7 547.3"/><path d="M700.5 448.5L594.2 463.3"/><path d="M700.5 448.5L630.3 486.5"/><path d="M700.5 448.5L664.9 486.5"/><path d="M700.5 448.5L692.4 478.3"/><path d="M700.5 448.5L595.3 498.3"/><path d="M700.5 448.5L639.6 529.6"/><path d="M700.5 448.5L560.7 538.4"/><path d="M700.5 448.5L777.4 409.3"/><path d="M700.5 448.5L732.6 471.9"/><path d="M594.2 463.3L630.3 486.5"/><path d="M594.2 463.3L664.9 486.5"/><path d="M594.2 463.3L682 515.7"/><path d="M594.2 463.3L668.7 547.3"/><path d="M630.3 486.5L664.9 486.5"/><path d="M630.3 486.5L682 515.7"/><path d="M630.3 486.5L643.9 563.2"/><path d="M630.3 486.5L738.3 427.2"/><path d="M630.3 486.5L708 549.5"/><path d="M630.3 486.5L525.3 427.1"/><path d="M664.9 486.5L692.4 478.3"/><path d="M664.9 486.5L682 515.7"/><path d="M664.9 486.5L598.2 531.1"/><path d="M664.9 486.5L639.6 529.6"/><path d="M664.9 486.5L608.3 573.7"/><path d="M692.4 478.3L682 515.7"/><path d="M692.4 478.3L639.6 529.6"/><path d="M692.4 478.3L668.7 547.3"/><path d="M692.4 478.3L710.2 364.2"/><path d="M555 495.4L639.6 529.6"/><path d="M595.3 498.3L682 515.7"/><path d="M595.3 498.3L608.3 573.7"/><path d="M682 515.7L639.6 529.6"/><path d="M682 515.7L668.7 547.3"/><path d="M682 515.7L643.9 563.2"/><path d="M682 515.7L738.3 427.2"/><path d="M598.2 531.1L560.7 538.4"/><path d="M598.2 531.1L732.6 471.9"/><path d="M639.6 529.6L777.4 409.3"/><path d="M639.6 529.6L732.6 471.9"/><path d="M643.9 563.2L676.4 584.5"/><path d="M676.4 584.5L732.6 471.9"/><path d="M745.9 389.1L794.1 490.9"/><path d="M732.6 471.9L723.2 513.2"/><path d="M284 93.5L270.6 136.9"/><path d="M262.3 179.5L269.5 215.1"/><path d="M186.2 216.7L207.6 253"/><path d="M347.7 135.3L393.1 128.6"/><path d="M311 186.6L335.7 191.8"/><path d="M432.2 177.1L410.8 203.3"/><path d="M136 283.1L149.1 329.7"/><path d="M110.5 316.3L149.1 329.7"/><path d="M107.8 379.1L128.6 407.8"/><path d="M95.5 427.5L128.6 407.8"/><path d="M95.5 427.5L143.1 438.3"/><path d="M154.2 480.3L187.2 474.2"/><path d="M154.2 480.3L201.9 494.7"/><path d="M154.2 480.3L177 509.8"/><path d="M187.2 474.2L201.9 494.7"/><path d="M187.2 474.2L177 509.8"/><path d="M201.9 494.7L177 509.8"/><path d="M208 551L253.6 559.9"/><path d="M208 551L226.2 584.3"/><path d="M253.6 559.9L226.2 584.3"/><path d="M330.4 555.5L306.6 585.5"/><path d="M330.4 555.5L353.3 578.4"/><path d="M330.4 555.5L339.9 613.1"/><path d="M330.4 555.5L311.3 625.9"/><path d="M306.6 585.5L353.3 578.4"/><path d="M306.6 585.5L339.9 613.1"/><path d="M306.6 585.5L286.1 617.9"/><path d="M306.6 585.5L311.3 625.9"/><path d="M353.3 578.4L339.9 613.1"/><path d="M353.3 578.4L286.1 617.9"/><path d="M353.3 578.4L311.3 625.9"/><path d="M339.9 613.1L286.1 617.9"/><path d="M339.9 613.1L311.3 625.9"/><path d="M286.1 617.9L311.3 625.9"/><path d="M330.4 555.5L286.1 617.9"/><path d="M687.9 323.1L663.3 351"/><path d="M687.9 323.1L710.2 364.2"/><path d="M687.9 323.1L525.3 427.1"/><path d="M777.4 409.3L738.3 427.2"/><path d="M777.4 409.3L794.1 490.9"/><path d="M525.3 427.1L556.1 451.6"/><path d="M226.2 584.3L556.1 451.6"/><path d="M318.7 513.6L375.3 483.6"/>
</g>
<g stroke="#4682B4" stroke-opacity="0.5" stroke-width="1.15" fill="none">
<path d="M687.9 323.1L637.3 374.7"/><path d="M687.9 323.1L636.3 423.6"/><path d="M687.9 323.1L660.8 448.2"/><path d="M687.9 323.1L700.5 448.5"/><path d="M632.9 342.4L700.5 448.5"/><path d="M663.3 351L636.3 423.6"/><path d="M598.3 367.8L637.3 374.7"/><path d="M598.3 367.8L620.5 439.9"/><path d="M637.3 374.7L654.4 406"/><path d="M637.3 374.7L636.3 423.6"/><path d="M637.3 374.7L660.8 448.2"/><path d="M637.3 374.7L594.2 463.3"/><path d="M637.3 374.7L630.3 486.5"/><path d="M672.4 380.7L654.4 406"/><path d="M672.4 380.7L694.6 411.8"/><path d="M672.4 380.7L583 428.5"/><path d="M672.4 380.7L700.5 448.5"/><path d="M672.4 380.7L630.3 486.5"/><path d="M672.4 380.7L745.9 389.1"/><path d="M613.3 405.7L654.4 406"/><path d="M613.3 405.7L660.8 448.2"/><path d="M613.3 405.7L630.3 486.5"/><path d="M613.3 405.7L692.4 478.3"/><path d="M613.3 405.7L682 515.7"/><path d="M654.4 406L583 428.5"/><path d="M654.4 406L594.2 463.3"/><path d="M654.4 406L682 515.7"/><path d="M694.6 411.8L594.2 463.3"/><path d="M694.6 411.8L630.3 486.5"/><path d="M694.6 411.8L682 515.7"/><path d="M583 428.5L636.3 423.6"/><path d="M583 428.5L594.2 463.3"/><path d="M583 428.5L710.2 364.2"/><path d="M636.3 423.6L660.8 448.2"/><path d="M636.3 423.6L700.5 448.5"/><path d="M636.3 423.6L556.1 451.6"/><path d="M636.3 423.6L630.3 486.5"/><path d="M636.3 423.6L595.3 498.3"/><path d="M636.3 423.6L682 515.7"/><path d="M636.3 423.6L598.2 531.1"/><path d="M636.3 423.6L668.7 547.3"/><path d="M620.5 439.9L660.8 448.2"/><path d="M620.5 439.9L630.3 486.5"/><path d="M620.5 439.9L598.2 531.1"/><path d="M620.5 439.9L732.6 471.9"/><path d="M660.8 448.2L700.5 448.5"/><path d="M660.8 448.2L556.1 451.6"/><path d="M660.8 448.2L594.2 463.3"/><path d="M660.8 448.2L630.3 486.5"/><path d="M660.8 448.2L664.9 486.5"/><path d="M660.8 448.2L692.4 478.3"/><path d="M660.8 448.2L555 495.4"/><path d="M660.8 448.2L595.3 498.3"/><path d="M660.8 448.2L682 515.7"/><path d="M700.5 448.5L682 515.7"/><path d="M556.1 451.6L595.3 498.3"/><path d="M556.1 451.6L598.2 531.1"/><path d="M594.2 463.3L639.6 529.6"/><path d="M630.3 486.5L692.4 478.3"/><path d="M630.3 486.5L639.6 529.6"/><path d="M630.3 486.5L668.7 547.3"/><path d="M664.9 486.5L595.3 498.3"/><path d="M664.9 486.5L560.7 538.4"/><path d="M664.9 486.5L732.6 471.9"/><path d="M664.9 486.5L525.3 427.1"/><path d="M555 495.4L595.3 498.3"/><path d="M682 515.7L754.9 503.3"/><path d="M598.2 531.1L639.6 529.6"/><path d="M639.6 529.6L754.9 503.3"/>
</g>
<g stroke="#D27F42" stroke-opacity="0.6" stroke-width="1.2" fill="none">
<path d="M1160 366.1L1259.2 298.2"/><path d="M1160 366.1L1330.5 310.5"/><path d="M1160 366.1L1239.7 405.2"/><path d="M1160 366.1L1163 508"/><path d="M1160 366.1L1277.1 510.8"/><path d="M1160 366.1L1252.1 576.1"/><path d="M1160 366.1L1342 571.1"/><path d="M1195.1 277.7L1182.8 303.3"/><path d="M1195.1 277.7L1288.7 330.5"/><path d="M1195.1 277.7L1243.6 347.3"/><path d="M1195.1 277.7L1285.8 381.4"/><path d="M1195.1 277.7L1163 508"/><path d="M1234.2 259.7L1282.1 248.5"/><path d="M1234.2 259.7L1182.8 303.3"/><path d="M1234.2 259.7L1187.8 399.8"/><path d="M1282.1 248.5L1259.2 298.2"/><path d="M1282.1 248.5L1317 354"/><path d="M1282.1 248.5L1163 508"/><path d="M1282.1 248.5L1275.8 549.7"/><path d="M1294.3 292.3L1218.3 303.3"/><path d="M1294.3 292.3L1259.2 298.2"/><path d="M1294.3 292.3L1330.5 310.5"/><path d="M1294.3 292.3L1288.7 330.5"/><path d="M1294.3 292.3L1243.6 347.3"/><path d="M1294.3 292.3L1317 354"/><path d="M1294.3 292.3L1285.8 381.4"/><path d="M1294.3 292.3L1356.2 358.5"/><path d="M1294.3 292.3L1099.4 574.8"/><path d="M1294.3 292.3L1256.1 621.4"/><path d="M1182.8 303.3L1218.3 303.3"/><path d="M1182.8 303.3L1259.2 298.2"/><path d="M1182.8 303.3L1288.7 330.5"/><path d="M1182.8 303.3L1125.5 584.7"/><path d="M1182.8 303.3L1277.1 510.8"/><path d="M1182.8 303.3L1252.1 576.1"/><path d="M1182.8 303.3L1343.5 611.6"/><path d="M1182.8 303.3L1256.1 621.4"/><path d="M1218.3 303.3L1259.2 298.2"/><path d="M1218.3 303.3L1288.7 330.5"/><path d="M1218.3 303.3L1193.2 344.2"/><path d="M1218.3 303.3L1087.3 534"/><path d="M1218.3 303.3L1136.6 536.9"/><path d="M1218.3 303.3L1309.5 539.5"/><path d="M1218.3 303.3L1341.6 533.5"/><path d="M1218.3 303.3L1252.1 576.1"/><path d="M1218.3 303.3L1329.3 601.8"/><path d="M1259.2 298.2L1288.7 330.5"/><path d="M1259.2 298.2L1193.2 344.2"/><path d="M1259.2 298.2L1285.8 381.4"/><path d="M1259.2 298.2L1187.8 399.8"/><path d="M1259.2 298.2L1239.7 405.2"/><path d="M1259.2 298.2L1282 437.7"/><path d="M1259.2 298.2L1184.1 537.5"/><path d="M1259.2 298.2L1125.5 584.7"/><path d="M1259.2 298.2L1247.7 539.4"/><path d="M1259.2 298.2L1341.6 533.5"/><path d="M1259.2 298.2L1256.1 621.4"/><path d="M1259.2 298.2L1322.3 633.2"/><path d="M1330.5 310.5L1288.7 330.5"/><path d="M1330.5 310.5L1243.6 347.3"/><path d="M1330.5 310.5L1317 354"/><path d="M1330.5 310.5L1239.7 405.2"/><path d="M1330.5 310.5L1163 508"/><path d="M1330.5 310.5L1109.5 559.5"/><path d="M1330.5 310.5L1099.4 574.8"/><path d="M1330.5 310.5L1370.7 604.3"/><path d="M1288.7 330.5L1243.6 347.3"/><path d="M1288.7 330.5L1285.8 381.4"/><path d="M1288.7 330.5L1187.8 399.8"/><path d="M1288.7 330.5L1239.7 405.2"/><path d="M1288.7 330.5L1149.6 469.2"/><path d="M1288.7 330.5L1309.5 539.5"/><path d="M1193.2 344.2L1243.6 347.3"/><path d="M1193.2 344.2L1125.5 584.7"/><path d="M1193.2 344.2L1309.5 539.5"/><path d="M1193.2 344.2L1343.5 611.6"/><path d="M1193.2 344.2L1322.3 633.2"/><path d="M1243.6 347.3L1317 354"/><path d="M1243.6 347.3L1285.8 381.4"/><path d="M1243.6 347.3L1239.7 405.2"/><path d="M1243.6 347.3L1136.6 536.9"/><path d="M1243.6 347.3L1247.7 539.4"/><path d="M1243.6 347.3L1275.8 549.7"/><path d="M1243.6 347.3L1309.5 539.5"/><path d="M1243.6 347.3L1370.7 604.3"/><path d="M1317 354L1256.1 621.4"/><path d="M1317 354L1284.7 663.7"/><path d="M1285.8 381.4L1239.7 405.2"/><path d="M1187.8 399.8L1239.7 405.2"/><path d="M1187.8 399.8L1356.2 358.5"/><path d="M1187.8 399.8L1211.1 449.6"/><path d="M1187.8 399.8L1247.7 539.4"/><path d="M1187.8 399.8L1343.5 611.6"/><path d="M1187.8 399.8L1256.1 621.4"/><path d="M1187.8 399.8L1284.7 663.7"/><path d="M1239.7 405.2L1136.6 536.9"/><path d="M1239.7 405.2L1162.8 576.3"/><path d="M1239.7 405.2L1217.6 599.1"/><path d="M1239.7 405.2L1329.3 601.8"/><path d="M1239.7 405.2L1322.3 633.2"/><path d="M1356.2 358.5L1370.7 604.3"/><path d="M1282 437.7L1149.6 469.2"/><path d="M1282 437.7L1087.3 534"/><path d="M1282 437.7L1247.7 539.4"/><path d="M1282 437.7L1295.7 589.6"/><path d="M1282 437.7L1343.5 611.6"/><path d="M1211.1 449.6L1087.3 534"/><path d="M1211.1 449.6L1184.1 537.5"/><path d="M1211.1 449.6L1275.8 549.7"/><path d="M1149.6 469.2L1109.5 559.5"/><path d="M1149.6 469.2L1073.8 576.8"/><path d="M1149.6 469.2L1275.8 549.7"/><path d="M1149.6 469.2L1295.7 589.6"/><path d="M1112.4 495.9L1163 508"/><path d="M1112.4 495.9L1136.6 536.9"/><path d="M1112.4 495.9L1109.5 559.5"/><path d="M1112.4 495.9L1162.8 576.3"/><path d="M1112.4 495.9L1341.6 533.5"/><path d="M1112.4 495.9L1295.7 589.6"/><path d="M1112.4 495.9L1343.5 611.6"/><path d="M1112.4 495.9L1322.3 633.2"/><path d="M1163 508L1136.6 536.9"/><path d="M1163 508L1099.4 574.8"/><path d="M1163 508L1252.1 576.1"/><path d="M1163 508L1322.3 633.2"/><path d="M1163 508L1284.7 663.7"/><path d="M1087.3 534L1136.6 536.9"/><path d="M1087.3 534L1109.5 559.5"/><path d="M1087.3 534L1073.8 576.8"/><path d="M1087.3 534L1275.8 549.7"/><path d="M1087.3 534L1341.6 533.5"/><path d="M1087.3 534L1370.7 604.3"/><path d="M1136.6 536.9L1099.4 574.8"/><path d="M1136.6 536.9L1162.8 576.3"/><path d="M1136.6 536.9L1277.1 510.8"/><path d="M1136.6 536.9L1275.8 549.7"/><path d="M1136.6 536.9L1341.6 533.5"/><path d="M1136.6 536.9L1342 571.1"/><path d="M1136.6 536.9L1343.5 611.6"/><path d="M1184.1 537.5L1073.8 576.8"/><path d="M1184.1 537.5L1099.4 574.8"/><path d="M1184.1 537.5L1125.5 584.7"/><path d="M1184.1 537.5L1247.7 539.4"/><path d="M1184.1 537.5L1252.1 576.1"/><path d="M1109.5 559.5L1073.8 576.8"/><path d="M1109.5 559.5L1162.8 576.3"/><path d="M1109.5 559.5L1277.1 510.8"/><path d="M1109.5 559.5L1295.7 589.6"/><path d="M1099.4 574.8L1162.8 576.3"/><path d="M1099.4 574.8L1252.1 576.1"/><path d="M1099.4 574.8L1370.7 604.3"/><path d="M1125.5 584.7L1217.6 599.1"/><path d="M1125.5 584.7L1256.1 621.4"/><path d="M1125.5 584.7L1284.7 663.7"/><path d="M1162.8 576.3L1277.1 510.8"/><path d="M1162.8 576.3L1275.8 549.7"/><path d="M1162.8 576.3L1295.7 589.6"/><path d="M1162.8 576.3L1343.5 611.6"/><path d="M1162.8 576.3L1284.7 663.7"/><path d="M1217.6 599.1L1309.5 539.5"/><path d="M1217.6 599.1L1342 571.1"/><path d="M1217.6 599.1L1343.5 611.6"/><path d="M1217.6 599.1L1256.1 621.4"/><path d="M1277.1 510.8L1370.7 604.3"/><path d="M1277.1 510.8L1343.5 611.6"/><path d="M1247.7 539.4L1309.5 539.5"/><path d="M1247.7 539.4L1252.1 576.1"/><path d="M1247.7 539.4L1295.7 589.6"/><path d="M1247.7 539.4L1370.7 604.3"/><path d="M1247.7 539.4L1343.5 611.6"/><path d="M1247.7 539.4L1322.3 633.2"/><path d="M1275.8 549.7L1252.1 576.1"/><path d="M1275.8 549.7L1342 571.1"/><path d="M1275.8 549.7L1295.7 589.6"/><path d="M1275.8 549.7L1370.7 604.3"/><path d="M1309.5 539.5L1252.1 576.1"/><path d="M1309.5 539.5L1342 571.1"/><path d="M1309.5 539.5L1343.5 611.6"/><path d="M1309.5 539.5L1322.3 633.2"/><path d="M1341.6 533.5L1370.7 604.3"/><path d="M1341.6 533.5L1256.1 621.4"/><path d="M1252.1 576.1L1295.7 589.6"/><path d="M1252.1 576.1L1256.1 621.4"/><path d="M1252.1 576.1L1284.7 663.7"/><path d="M1342 571.1L1295.7 589.6"/><path d="M1342 571.1L1329.3 601.8"/><path d="M1342 571.1L1370.7 604.3"/><path d="M1295.7 589.6L1370.7 604.3"/><path d="M1295.7 589.6L1343.5 611.6"/><path d="M1295.7 589.6L1284.7 663.7"/><path d="M1329.3 601.8L1343.5 611.6"/><path d="M1329.3 601.8L1284.7 663.7"/><path d="M1370.7 604.3L1256.1 621.4"/><path d="M1343.5 611.6L1256.1 621.4"/><path d="M1343.5 611.6L1284.7 663.7"/><path d="M1261.8 79.4L1276 118.1"/><path d="M1198.7 172.4L1243.4 170"/><path d="M1294.3 163.7L1324.2 196.5"/><path d="M1294.3 163.7L1296.2 204.7"/><path d="M1324.2 196.5L1296.2 204.7"/><path d="M1400.1 194.1L1360.9 218.3"/><path d="M1400.1 194.1L1402.3 248.1"/><path d="M1360.9 218.3L1402.3 248.1"/><path d="M1117.8 203.3L1156.6 230.4"/><path d="M1052.8 233.1L1074.2 264.1"/><path d="M1430.3 284.2L1445.9 298.7"/><path d="M1430.3 284.2L1454.1 314.9"/><path d="M1430.3 284.2L1421.5 324.6"/><path d="M1430.3 284.2L1460.6 342"/><path d="M1430.3 284.2L1436.3 368.1"/><path d="M1445.9 298.7L1454.1 314.9"/><path d="M1445.9 298.7L1421.5 324.6"/><path d="M1445.9 298.7L1460.6 342"/><path d="M1445.9 298.7L1436.3 368.1"/><path d="M1454.1 314.9L1421.5 324.6"/><path d="M1454.1 314.9L1460.6 342"/><path d="M1454.1 314.9L1436.3 368.1"/><path d="M1421.5 324.6L1460.6 342"/><path d="M1421.5 324.6L1436.3 368.1"/><path d="M1460.6 342L1436.3 368.1"/><path d="M1393.3 427.1L1437.5 421.4"/><path d="M1393.3 427.1L1457.5 450.1"/><path d="M1393.3 427.1L1375 474.1"/><path d="M1393.3 427.1L1424.1 472"/><path d="M1393.3 427.1L1475.3 487.8"/><path d="M1393.3 427.1L1441 513.2"/><path d="M1393.3 427.1L1397.3 519.2"/><path d="M1393.3 427.1L1428.3 539"/><path d="M1437.5 421.4L1457.5 450.1"/><path d="M1437.5 421.4L1375 474.1"/><path d="M1437.5 421.4L1424.1 472"/><path d="M1437.5 421.4L1475.3 487.8"/><path d="M1437.5 421.4L1441 513.2"/><path d="M1437.5 421.4L1397.3 519.2"/><path d="M1437.5 421.4L1428.3 539"/><path d="M1457.5 450.1L1375 474.1"/><path d="M1457.5 450.1L1424.1 472"/><path d="M1457.5 450.1L1475.3 487.8"/><path d="M1457.5 450.1L1441 513.2"/><path d="M1457.5 450.1L1397.3 519.2"/><path d="M1457.5 450.1L1428.3 539"/><path d="M1375 474.1L1424.1 472"/><path d="M1375 474.1L1475.3 487.8"/><path d="M1375 474.1L1441 513.2"/><path d="M1375 474.1L1397.3 519.2"/><path d="M1375 474.1L1428.3 539"/><path d="M1424.1 472L1475.3 487.8"/><path d="M1424.1 472L1441 513.2"/><path d="M1424.1 472L1397.3 519.2"/><path d="M1424.1 472L1428.3 539"/><path d="M1475.3 487.8L1441 513.2"/><path d="M1475.3 487.8L1397.3 519.2"/><path d="M1475.3 487.8L1428.3 539"/><path d="M1441 513.2L1397.3 519.2"/><path d="M1441 513.2L1428.3 539"/><path d="M1397.3 519.2L1428.3 539"/><path d="M1015 343.9L1050.3 337.6"/><path d="M1050.3 337.6L1087.6 336.5"/><path d="M1015 343.9L1182.8 303.3"/><path d="M1015 343.9L1193.2 344.2"/><path d="M1015 343.9L1288.7 330.5"/><path d="M1050.3 337.6L1218.3 303.3"/><path d="M1087.6 336.5L1330.5 310.5"/><path d="M1015 343.9L1112.4 495.9"/><path d="M1015 343.9L1075.3 418.2"/><path d="M1015 343.9L1136.6 536.9"/><path d="M1053.3 380.1L1112.4 495.9"/><path d="M1053.3 380.1L1184.1 537.5"/><path d="M1053.3 380.1L1162.8 576.3"/><path d="M1087.6 336.5L1104.7 389.3"/><path d="M1087.6 336.5L1136.6 536.9"/><path d="M1087.6 336.5L1109.5 559.5"/><path d="M1104.7 389.3L1160 366.1"/><path d="M1075.3 418.2L1160 366.1"/><path d="M1075.3 418.2L1087.3 534"/><path d="M1104.7 389.3L1099.4 574.8"/><path d="M1053.3 380.1L1104.7 389.3"/><path d="M1075.3 418.2L1149.6 469.2"/>
</g>
<g stroke="#4682B4" stroke-opacity="0.55" stroke-width="1.2" fill="none">
<path d="M1160 366.1L1234.2 259.7"/><path d="M1160 366.1L1149.6 469.2"/><path d="M1160 366.1L1329.3 601.8"/><path d="M1234.2 259.7L1243.6 347.3"/><path d="M1234.2 259.7L1370.7 604.3"/><path d="M1282.1 248.5L1288.7 330.5"/><path d="M1294.3 292.3L1370.7 604.3"/><path d="M1182.8 303.3L1330.5 310.5"/><path d="M1182.8 303.3L1243.6 347.3"/><path d="M1182.8 303.3L1309.5 539.5"/><path d="M1218.3 303.3L1330.5 310.5"/><path d="M1218.3 303.3L1243.6 347.3"/><path d="M1218.3 303.3L1285.8 381.4"/><path d="M1218.3 303.3L1149.6 469.2"/><path d="M1259.2 298.2L1243.6 347.3"/><path d="M1259.2 298.2L1343.5 611.6"/><path d="M1330.5 310.5L1193.2 344.2"/><path d="M1193.2 344.2L1252.1 576.1"/><path d="M1243.6 347.3L1187.8 399.8"/><path d="M1317 354L1282 437.7"/><path d="M1285.8 381.4L1211.1 449.6"/><path d="M1285.8 381.4L1341.6 533.5"/><path d="M1184.1 537.5L1295.7 589.6"/><path d="M1162.8 576.3L1309.5 539.5"/><path d="M1162.8 576.3L1252.1 576.1"/><path d="M1275.8 549.7L1284.7 663.7"/><path d="M1341.6 533.5L1284.7 663.7"/><path d="M1329.3 601.8L1370.7 604.3"/><path d="M1050.3 337.6L1288.7 330.5"/><path d="M1087.6 336.5L1317 354"/><path d="M1015 343.9L1104.7 389.3"/><path d="M1015 343.9L1187.8 399.8"/><path d="M1050.3 337.6L1053.3 380.1"/><path d="M1050.3 337.6L1075.3 418.2"/><path d="M1015 343.9L1053.3 380.1"/><path d="M1050.3 337.6L1104.7 389.3"/>
</g>
</g>
<g stroke="#293233" stroke-width="1.7">
<circle cx="284" cy="93.5" r="4.8" fill="#10C5CA"/>
<circle cx="270.6" cy="136.9" r="4.8" fill="#10C5CA"/>
<circle cx="210.7" cy="126.6" r="3.8" fill="#10C5CA"/>
<circle cx="105.4" cy="147.9" r="3.8" fill="#10C5CA"/>
<circle cx="175.2" cy="147.1" r="3.8" fill="#10C5CA"/>
<circle cx="238.3" cy="157.4" r="3.8" fill="#10C5CA"/>
<circle cx="210.7" cy="170.5" r="3.8" fill="#F8766D"/>
<circle cx="139.7" cy="176" r="3.8" fill="#10C5CA"/>
<circle cx="174.7" cy="180.2" r="3.8" fill="#10C5CA"/>
<circle cx="262.3" cy="179.5" r="4.8" fill="#10C5CA"/>
<circle cx="269.5" cy="215.1" r="4.8" fill="#10C5CA"/>
<circle cx="96.3" cy="196.8" r="3.8" fill="#10C5CA"/>
<circle cx="142.8" cy="210.4" r="3.8" fill="#10C5CA"/>
<circle cx="122" cy="220.5" r="3.8" fill="#10C5CA"/>
<circle cx="186.2" cy="216.7" r="4.8" fill="#10C5CA"/>
<circle cx="207.6" cy="253" r="4.8" fill="#10C5CA"/>
<circle cx="136.5" cy="241" r="3.8" fill="#F8766D"/>
<circle cx="94.7" cy="248.6" r="3.8" fill="#10C5CA"/>
<circle cx="332.3" cy="81.3" r="3.8" fill="#10C5CA"/>
<circle cx="426.2" cy="100.2" r="3.8" fill="#10C5CA"/>
<circle cx="477.8" cy="106.1" r="3.8" fill="#10C5CA"/>
<circle cx="347.7" cy="135.3" r="4.8" fill="#10C5CA"/>
<circle cx="393.1" cy="128.6" r="4.8" fill="#10C5CA"/>
<circle cx="444.7" cy="141.7" r="3.8" fill="#F8766D"/>
<circle cx="311" cy="186.6" r="4.8" fill="#10C5CA"/>
<circle cx="335.7" cy="191.8" r="4.8" fill="#10C5CA"/>
<circle cx="432.2" cy="177.1" r="4.8" fill="#10C5CA"/>
<circle cx="410.8" cy="203.3" r="4.8" fill="#F8766D"/>
<circle cx="80.8" cy="285" r="3.8" fill="#10C5CA"/>
<circle cx="136" cy="283.1" r="4.8" fill="#10C5CA"/>
<circle cx="149.1" cy="329.7" r="4.8" fill="#10C5CA"/>
<circle cx="65.8" cy="302.5" r="3.8" fill="#10C5CA"/>
<circle cx="80.8" cy="316.6" r="3.8" fill="#10C5CA"/>
<circle cx="110.5" cy="316.3" r="4.8" fill="#10C5CA"/>
<circle cx="43.4" cy="320.7" r="3.8" fill="#10C5CA"/>
<circle cx="87.3" cy="344.2" r="3.8" fill="#F8766D"/>
<circle cx="51" cy="365.5" r="3.8" fill="#10C5CA"/>
<circle cx="107.8" cy="379.1" r="4.8" fill="#F8766D"/>
<circle cx="128.6" cy="407.8" r="4.8" fill="#F8766D"/>
<circle cx="95.5" cy="427.5" r="4.8" fill="#10C5CA"/>
<circle cx="143.1" cy="438.3" r="4.8" fill="#10C5CA"/>
<circle cx="55.7" cy="398.3" r="3.8" fill="#10C5CA"/>
<circle cx="64.9" cy="451.4" r="3.8" fill="#10C5CA"/>
<circle cx="82.5" cy="471" r="3.8" fill="#10C5CA"/>
<circle cx="113.2" cy="487.8" r="3.8" fill="#F8766D"/>
<circle cx="50.5" cy="497.3" r="3.8" fill="#10C5CA"/>
<circle cx="87.8" cy="508.1" r="3.8" fill="#10C5CA"/>
<circle cx="154.2" cy="480.3" r="4.8" fill="#10C5CA"/>
<circle cx="187.2" cy="474.2" r="4.8" fill="#10C5CA"/>
<circle cx="201.9" cy="494.7" r="4.8" fill="#10C5CA"/>
<circle cx="177" cy="509.8" r="4.8" fill="#10C5CA"/>
<circle cx="114.5" cy="531.6" r="3.8" fill="#10C5CA"/>
<circle cx="158.1" cy="554" r="3.8" fill="#F8766D"/>
<circle cx="208" cy="551" r="4.8" fill="#10C5CA"/>
<circle cx="253.6" cy="559.9" r="4.8" fill="#10C5CA"/>
<circle cx="226.2" cy="584.3" r="4.8" fill="#10C5CA"/>
<circle cx="94.4" cy="577.2" r="3.8" fill="#10C5CA"/>
<circle cx="179.6" cy="584.3" r="3.8" fill="#10C5CA"/>
<circle cx="138.9" cy="597.2" r="3.8" fill="#10C5CA"/>
<circle cx="214.3" cy="610.6" r="3.8" fill="#10C5CA"/>
<circle cx="179.6" cy="619.6" r="3.8" fill="#10C5CA"/>
<circle cx="247.8" cy="622.1" r="3.8" fill="#F8766D"/>
<circle cx="212.3" cy="653.5" r="3.8" fill="#10C5CA"/>
<circle cx="276.6" cy="663.3" r="3.8" fill="#F8766D"/>
<circle cx="330.4" cy="555.5" r="4.8" fill="#10C5CA"/>
<circle cx="306.6" cy="585.5" r="4.8" fill="#10C5CA"/>
<circle cx="353.3" cy="578.4" r="4.8" fill="#10C5CA"/>
<circle cx="339.9" cy="613.1" r="4.8" fill="#10C5CA"/>
<circle cx="286.1" cy="617.9" r="4.8" fill="#10C5CA"/>
<circle cx="311.3" cy="625.9" r="4.8" fill="#10C5CA"/>
<circle cx="376.2" cy="640.9" r="3.8" fill="#10C5CA"/>
<circle cx="351.3" cy="665.7" r="3.8" fill="#10C5CA"/>
<circle cx="394.2" cy="664.1" r="3.8" fill="#10C5CA"/>
<circle cx="683.6" cy="275.4" r="3.8" fill="#10C5CA"/>
<circle cx="550.7" cy="586.4" r="3.8" fill="#10C5CA"/>
<circle cx="488.6" cy="544.2" r="5.8" fill="#10C5CA"/>
<circle cx="461.7" cy="562" r="5.8" fill="#10C5CA"/>
<circle cx="440.1" cy="578.6" r="5.8" fill="#10C5CA"/>
<circle cx="468.5" cy="577.6" r="5.8" fill="#10C5CA"/>
<circle cx="488.6" cy="579.4" r="5.8" fill="#10C5CA"/>
<circle cx="511.4" cy="599.9" r="5.8" fill="#10C5CA"/>
<circle cx="427" cy="613.3" r="5.8" fill="#10C5CA"/>
<circle cx="469.6" cy="609.2" r="5.8" fill="#10C5CA"/>
<circle cx="447.1" cy="631.8" r="5.8" fill="#10C5CA"/>
<circle cx="503.5" cy="638.1" r="5.8" fill="#10C5CA"/>
<circle cx="430.2" cy="650.7" r="5.8" fill="#10C5CA"/>
<circle cx="466.2" cy="651.2" r="5.8" fill="#10C5CA"/>
<circle cx="598.3" cy="131.5" r="5.8" fill="#10C5CA"/>
<circle cx="522.8" cy="164.8" r="5.8" fill="#10C5CA"/>
<circle cx="564" cy="161.8" r="5.8" fill="#10C5CA"/>
<circle cx="603" cy="170.4" r="5.8" fill="#10C5CA"/>
<circle cx="499.5" cy="182.4" r="5.8" fill="#10C5CA"/>
<circle cx="583.5" cy="183.1" r="5.8" fill="#10C5CA"/>
<circle cx="519" cy="199.6" r="5.8" fill="#10C5CA"/>
<circle cx="599.7" cy="198.9" r="5.8" fill="#10C5CA"/>
<circle cx="559.2" cy="208.1" r="5.8" fill="#10C5CA"/>
<circle cx="479.1" cy="210.5" r="5.8" fill="#10C5CA"/>
<circle cx="618.5" cy="212.6" r="5.8" fill="#10C5CA"/>
<circle cx="520" cy="234.2" r="5.8" fill="#10C5CA"/>
<circle cx="599" cy="233.9" r="5.8" fill="#10C5CA"/>
<circle cx="570.5" cy="241" r="5.8" fill="#10C5CA"/>
<circle cx="550.6" cy="245.5" r="5.8" fill="#10C5CA"/>
<circle cx="569.8" cy="263.6" r="5.8" fill="#10C5CA"/>
<circle cx="533.7" cy="270.9" r="5.8" fill="#10C5CA"/>
<circle cx="607.5" cy="279.8" r="5.8" fill="#10C5CA"/>
<circle cx="562.6" cy="297.7" r="5.8" fill="#10C5CA"/>
<circle cx="312.5" cy="241.9" r="4.8" fill="#10C5CA"/>
<circle cx="370.6" cy="241.4" r="7.1" fill="#F8766D"/>
<circle cx="274.5" cy="258.6" r="4.8" fill="#10C5CA"/>
<circle cx="338.8" cy="265.4" r="7.1" fill="#10C5CA"/>
<circle cx="307.8" cy="288" r="7.1" fill="#F8766D"/>
<circle cx="394" cy="286.5" r="7.1" fill="#10C5CA"/>
<circle cx="261.9" cy="300.1" r="7.1" fill="#10C5CA"/>
<circle cx="350.1" cy="296.7" r="7.1" fill="#10C5CA"/>
<circle cx="218.6" cy="317" r="7.1" fill="#10C5CA"/>
<circle cx="334.9" cy="325.8" r="7.1" fill="#F8766D"/>
<circle cx="373.4" cy="331.7" r="7.1" fill="#10C5CA"/>
<circle cx="295.9" cy="335.1" r="7.1" fill="#10C5CA"/>
<circle cx="403.5" cy="320.2" r="7.1" fill="#10C5CA"/>
<circle cx="441.9" cy="307.8" r="7.1" fill="#10C5CA"/>
<circle cx="480.8" cy="336.8" r="4.8" fill="#10C5CA"/>
<circle cx="249.6" cy="350.9" r="7.1" fill="#10C5CA"/>
<circle cx="204.3" cy="371.2" r="7.1" fill="#10C5CA"/>
<circle cx="337" cy="366.8" r="7.1" fill="#10C5CA"/>
<circle cx="378.4" cy="369.7" r="7.1" fill="#10C5CA"/>
<circle cx="416.5" cy="347.5" r="7.1" fill="#10C5CA"/>
<circle cx="453.5" cy="372.9" r="7.1" fill="#10C5CA"/>
<circle cx="245.1" cy="388.8" r="7.1" fill="#10C5CA"/>
<circle cx="286.5" cy="385.4" r="7.1" fill="#10C5CA"/>
<circle cx="319.6" cy="397.3" r="7.1" fill="#10C5CA"/>
<circle cx="338.5" cy="404.9" r="7.1" fill="#10C5CA"/>
<circle cx="366.5" cy="398.4" r="7.1" fill="#10C5CA"/>
<circle cx="410.2" cy="395.9" r="7.1" fill="#10C5CA"/>
<circle cx="476.9" cy="397.3" r="4.8" fill="#10C5CA"/>
<circle cx="219.9" cy="415.7" r="7.1" fill="#10C5CA"/>
<circle cx="264" cy="430" r="7.1" fill="#10C5CA"/>
<circle cx="311.7" cy="428.6" r="7.1" fill="#10C5CA"/>
<circle cx="358.6" cy="437.8" r="7.1" fill="#10C5CA"/>
<circle cx="405.7" cy="445.2" r="7.1" fill="#10C5CA"/>
<circle cx="452.9" cy="427" r="7.1" fill="#10C5CA"/>
<circle cx="250.4" cy="463.3" r="3.8" fill="#10C5CA"/>
<circle cx="328.5" cy="465" r="7.1" fill="#10C5CA"/>
<circle cx="287.1" cy="472.9" r="7.1" fill="#10C5CA"/>
<circle cx="341.5" cy="486.5" r="7.1" fill="#10C5CA"/>
<circle cx="375.3" cy="483.6" r="7.1" fill="#10C5CA"/>
<circle cx="318.7" cy="513.6" r="3.8" fill="#10C5CA"/>
<circle cx="687.9" cy="323.1" r="4.8" fill="#10C5CA"/>
<circle cx="606.9" cy="337.2" r="4.8" fill="#F8766D"/>
<circle cx="632.9" cy="342.4" r="4.8" fill="#F8766D"/>
<circle cx="663.3" cy="351" r="4.8" fill="#10C5CA"/>
<circle cx="598.3" cy="367.8" r="4.8" fill="#F8766D"/>
<circle cx="637.3" cy="374.7" r="5.6" fill="#F8766D"/>
<circle cx="672.4" cy="380.7" r="5.6" fill="#10C5CA"/>
<circle cx="558" cy="392.8" r="4.8" fill="#F8766D"/>
<circle cx="613.3" cy="405.7" r="5.6" fill="#F8766D"/>
<circle cx="654.4" cy="406" r="5.6" fill="#10C5CA"/>
<circle cx="694.6" cy="411.8" r="5.6" fill="#F8766D"/>
<circle cx="583" cy="428.5" r="4.8" fill="#F8766D"/>
<circle cx="636.3" cy="423.6" r="5.6" fill="#F8766D"/>
<circle cx="620.5" cy="439.9" r="5.6" fill="#F8766D"/>
<circle cx="660.8" cy="448.2" r="5.6" fill="#F8766D"/>
<circle cx="700.5" cy="448.5" r="5.6" fill="#F8766D"/>
<circle cx="556.1" cy="451.6" r="4.8" fill="#10C5CA"/>
<circle cx="594.2" cy="463.3" r="5.6" fill="#F8766D"/>
<circle cx="630.3" cy="486.5" r="5.6" fill="#F8766D"/>
<circle cx="664.9" cy="486.5" r="5.6" fill="#10C5CA"/>
<circle cx="692.4" cy="478.3" r="5.6" fill="#F8766D"/>
<circle cx="555" cy="495.4" r="4.8" fill="#10C5CA"/>
<circle cx="595.3" cy="498.3" r="4.8" fill="#F8766D"/>
<circle cx="682" cy="515.7" r="5.6" fill="#F8766D"/>
<circle cx="598.2" cy="531.1" r="4.8" fill="#F8766D"/>
<circle cx="639.6" cy="529.6" r="5.6" fill="#10C5CA"/>
<circle cx="560.7" cy="538.4" r="4.8" fill="#10C5CA"/>
<circle cx="668.7" cy="547.3" r="4.8" fill="#F8766D"/>
<circle cx="643.9" cy="563.2" r="3.8" fill="#F8766D"/>
<circle cx="608.3" cy="573.7" r="4.8" fill="#10C5CA"/>
<circle cx="676.4" cy="584.5" r="4.8" fill="#10C5CA"/>
<circle cx="710.2" cy="364.2" r="4.8" fill="#F8766D"/>
<circle cx="745.9" cy="389.1" r="4.8" fill="#10C5CA"/>
<circle cx="777.4" cy="409.3" r="4.8" fill="#10C5CA"/>
<circle cx="738.3" cy="427.2" r="4.8" fill="#F8766D"/>
<circle cx="770.4" cy="452.7" r="4.8" fill="#10C5CA"/>
<circle cx="732.6" cy="471.9" r="4.8" fill="#F8766D"/>
<circle cx="794.1" cy="490.9" r="3.8" fill="#10C5CA"/>
<circle cx="754.9" cy="503.3" r="4.8" fill="#F8766D"/>
<circle cx="723.2" cy="513.2" r="4.8" fill="#F8766D"/>
<circle cx="708" cy="549.5" r="4.8" fill="#10C5CA"/>
<circle cx="525.3" cy="427.1" r="4.8" fill="#10C5CA"/>
<circle cx="1004.9" cy="274" r="4.1" fill="#10C5CA"/>
<circle cx="1033.4" cy="467.6" r="4.1" fill="#10C5CA"/>
<circle cx="1178.3" cy="627" r="4.1" fill="#10C5CA"/>
<circle cx="1411.7" cy="579.6" r="4.1" fill="#10C5CA"/>
<circle cx="1494.5" cy="384.6" r="4.1" fill="#10C5CA"/>
<circle cx="1493" cy="286.1" r="4.1" fill="#10C5CA"/>
<circle cx="1463.3" cy="249.7" r="4.1" fill="#10C5CA"/>
<circle cx="1449.2" cy="215.8" r="4.1" fill="#10C5CA"/>
<circle cx="1093.8" cy="144.7" r="4.1" fill="#10C5CA"/>
<circle cx="1124.6" cy="148.7" r="4.1" fill="#10C5CA"/>
<circle cx="1076.1" cy="181" r="4.1" fill="#10C5CA"/>
<circle cx="1212.1" cy="101" r="4.1" fill="#10C5CA"/>
<circle cx="1177.6" cy="118.4" r="4.1" fill="#10C5CA"/>
<circle cx="1331.4" cy="81" r="4.1" fill="#10C5CA"/>
<circle cx="1339.3" cy="126" r="4.1" fill="#10C5CA"/>
<circle cx="1363" cy="152.3" r="4.1" fill="#10C5CA"/>
<circle cx="1390.1" cy="158.2" r="4.1" fill="#10C5CA"/>
<circle cx="1160" cy="152.8" r="4.1" fill="#F8766D"/>
<circle cx="1261.8" cy="79.4" r="4.4" fill="#10C5CA"/>
<circle cx="1276" cy="118.1" r="4.4" fill="#10C5CA"/>
<circle cx="1198.7" cy="172.4" r="4.4" fill="#F8766D"/>
<circle cx="1243.4" cy="170" r="4.4" fill="#10C5CA"/>
<circle cx="1294.3" cy="163.7" r="4.4" fill="#10C5CA"/>
<circle cx="1324.2" cy="196.5" r="4.4" fill="#10C5CA"/>
<circle cx="1296.2" cy="204.7" r="4.4" fill="#10C5CA"/>
<circle cx="1400.1" cy="194.1" r="4.4" fill="#10C5CA"/>
<circle cx="1360.9" cy="218.3" r="4.4" fill="#F8766D"/>
<circle cx="1402.3" cy="248.1" r="4.4" fill="#10C5CA"/>
<circle cx="1117.8" cy="203.3" r="4.4" fill="#10C5CA"/>
<circle cx="1156.6" cy="230.4" r="4.4" fill="#10C5CA"/>
<circle cx="1052.8" cy="233.1" r="4.4" fill="#10C5CA"/>
<circle cx="1074.2" cy="264.1" r="4.4" fill="#10C5CA"/>
<circle cx="1430.3" cy="284.2" r="5.1" fill="#10C5CA"/>
<circle cx="1445.9" cy="298.7" r="5.1" fill="#10C5CA"/>
<circle cx="1454.1" cy="314.9" r="5.1" fill="#10C5CA"/>
<circle cx="1421.5" cy="324.6" r="5.1" fill="#10C5CA"/>
<circle cx="1460.6" cy="342" r="5.1" fill="#10C5CA"/>
<circle cx="1436.3" cy="368.1" r="5.1" fill="#10C5CA"/>
<circle cx="1393.3" cy="427.1" r="5.4" fill="#10C5CA"/>
<circle cx="1437.5" cy="421.4" r="5.4" fill="#10C5CA"/>
<circle cx="1457.5" cy="450.1" r="5.4" fill="#10C5CA"/>
<circle cx="1375" cy="474.1" r="5.4" fill="#10C5CA"/>
<circle cx="1424.1" cy="472" r="5.4" fill="#10C5CA"/>
<circle cx="1475.3" cy="487.8" r="5.4" fill="#10C5CA"/>
<circle cx="1441" cy="513.2" r="5.4" fill="#10C5CA"/>
<circle cx="1397.3" cy="519.2" r="5.4" fill="#10C5CA"/>
<circle cx="1428.3" cy="539" r="5.4" fill="#10C5CA"/>
<circle cx="1015" cy="343.9" r="6.5" fill="#F8766D"/>
<circle cx="1050.3" cy="337.6" r="5.5" fill="#F8766D"/>
<circle cx="1087.6" cy="336.5" r="6.5" fill="#F8766D"/>
<circle cx="1053.3" cy="380.1" r="5.5" fill="#F8766D"/>
<circle cx="1104.7" cy="389.3" r="5.5" fill="#10C5CA"/>
<circle cx="1075.3" cy="418.2" r="5.5" fill="#F8766D"/>
<circle cx="1160" cy="366.1" r="5.5" fill="#F8766D"/>
<circle cx="1195.1" cy="277.7" r="5.5" fill="#10C5CA"/>
<circle cx="1234.2" cy="259.7" r="5.5" fill="#10C5CA"/>
<circle cx="1282.1" cy="248.5" r="5.5" fill="#10C5CA"/>
<circle cx="1294.3" cy="292.3" r="5.5" fill="#10C5CA"/>
<circle cx="1182.8" cy="303.3" r="5.5" fill="#F8766D"/>
<circle cx="1218.3" cy="303.3" r="6.5" fill="#F8766D"/>
<circle cx="1259.2" cy="298.2" r="6.5" fill="#F8766D"/>
<circle cx="1330.5" cy="310.5" r="5.5" fill="#F8766D"/>
<circle cx="1288.7" cy="330.5" r="5.5" fill="#F8766D"/>
<circle cx="1193.2" cy="344.2" r="5.5" fill="#10C5CA"/>
<circle cx="1243.6" cy="347.3" r="6.5" fill="#F8766D"/>
<circle cx="1317" cy="354" r="5.5" fill="#10C5CA"/>
<circle cx="1285.8" cy="381.4" r="5.5" fill="#F8766D"/>
<circle cx="1187.8" cy="399.8" r="5.5" fill="#F8766D"/>
<circle cx="1239.7" cy="405.2" r="5.5" fill="#F8766D"/>
<circle cx="1356.2" cy="358.5" r="4.1" fill="#F8766D"/>
<circle cx="1282" cy="437.7" r="5.5" fill="#10C5CA"/>
<circle cx="1211.1" cy="449.6" r="5.5" fill="#10C5CA"/>
<circle cx="1149.6" cy="469.2" r="5.5" fill="#10C5CA"/>
<circle cx="1112.4" cy="495.9" r="5.5" fill="#F8766D"/>
<circle cx="1163" cy="508" r="5.5" fill="#10C5CA"/>
<circle cx="1087.3" cy="534" r="5.5" fill="#F8766D"/>
<circle cx="1136.6" cy="536.9" r="6.5" fill="#F8766D"/>
<circle cx="1184.1" cy="537.5" r="5.5" fill="#10C5CA"/>
<circle cx="1109.5" cy="559.5" r="5.5" fill="#10C5CA"/>
<circle cx="1073.8" cy="576.8" r="4.1" fill="#F8766D"/>
<circle cx="1099.4" cy="574.8" r="5.5" fill="#F8766D"/>
<circle cx="1125.5" cy="584.7" r="5.5" fill="#10C5CA"/>
<circle cx="1162.8" cy="576.3" r="6.5" fill="#10C5CA"/>
<circle cx="1217.6" cy="599.1" r="4.1" fill="#10C5CA"/>
<circle cx="1277.1" cy="510.8" r="4.1" fill="#F8766D"/>
<circle cx="1247.7" cy="539.4" r="5.5" fill="#F8766D"/>
<circle cx="1275.8" cy="549.7" r="6.5" fill="#F8766D"/>
<circle cx="1309.5" cy="539.5" r="5.5" fill="#F8766D"/>
<circle cx="1341.6" cy="533.5" r="4.1" fill="#F8766D"/>
<circle cx="1252.1" cy="576.1" r="6.5" fill="#F8766D"/>
<circle cx="1342" cy="571.1" r="5.5" fill="#F8766D"/>
<circle cx="1295.7" cy="589.6" r="5.5" fill="#F8766D"/>
<circle cx="1329.3" cy="601.8" r="5.5" fill="#F8766D"/>
<circle cx="1370.7" cy="604.3" r="6.5" fill="#F8766D"/>
<circle cx="1343.5" cy="611.6" r="5.5" fill="#F8766D"/>
<circle cx="1256.1" cy="621.4" r="5.5" fill="#10C5CA"/>
<circle cx="1322.3" cy="633.2" r="5.5" fill="#10C5CA"/>
<circle cx="1284.7" cy="663.7" r="5.5" fill="#F8766D"/>
</g>
<text x="1737.5" y="174.3" font-size="30.3" fill="#000" stroke="#000" stroke-width="0.42">cor</text>
<line x1="1742.5" y1="216" x2="1779.5" y2="216" stroke="#4682B4" stroke-opacity="0.45" stroke-width="1.6"/>
<line x1="1742.5" y1="262" x2="1779.5" y2="262" stroke="#D27F42" stroke-opacity="0.40" stroke-width="1.6"/>
<text x="1799.5" y="222.2" font-size="23" fill="#000" stroke="#000" stroke-width="0.42">–</text>
<text x="1799" y="270" font-size="23" fill="#000" stroke="#000" stroke-width="0.42">+</text>
<text x="1728.3" y="427" font-size="30.3" fill="#000" stroke="#000" stroke-width="0.42">Type</text>
<circle cx="1752.5" cy="467.7" r="5.6" fill="#F8766D" stroke="#293233" stroke-width="1.4"/>
<circle cx="1752.5" cy="514.2" r="5.6" fill="#10C5CA" stroke="#293233" stroke-width="1.4"/>
<text x="1788" y="476" font-size="23" fill="#000" stroke="#000" stroke-width="0.42">AT</text>
<text x="1788" y="522.5" font-size="23" fill="#000" stroke="#000" stroke-width="0.42">RT</text>
<line x1="81.5" y1="1325.6" x2="849" y2="1325.6" stroke="#EBEBEB" stroke-width="0.9"/>
<line x1="81.5" y1="1272.7" x2="849" y2="1272.7" stroke="#EBEBEB" stroke-width="1.4"/>
<line x1="81.5" y1="1219.8" x2="849" y2="1219.8" stroke="#EBEBEB" stroke-width="0.9"/>
<line x1="81.5" y1="1167" x2="849" y2="1167" stroke="#EBEBEB" stroke-width="1.4"/>
<line x1="81.5" y1="1114.1" x2="849" y2="1114.1" stroke="#EBEBEB" stroke-width="0.9"/>
<line x1="81.5" y1="1061.2" x2="849" y2="1061.2" stroke="#EBEBEB" stroke-width="1.4"/>
<line x1="81.5" y1="1008.3" x2="849" y2="1008.3" stroke="#EBEBEB" stroke-width="0.9"/>
<line x1="81.5" y1="955.5" x2="849" y2="955.5" stroke="#EBEBEB" stroke-width="1.4"/>
<line x1="81.5" y1="902.6" x2="849" y2="902.6" stroke="#EBEBEB" stroke-width="0.9"/>
<line x1="81.5" y1="849.7" x2="849" y2="849.7" stroke="#EBEBEB" stroke-width="1.4"/>
<line x1="81.5" y1="796.8" x2="849" y2="796.8" stroke="#EBEBEB" stroke-width="0.9"/>
<line x1="115.7" y1="772.0" x2="115.7" y2="1342.6" stroke="#EBEBEB" stroke-width="1.4"/>
<line x1="203.2" y1="772.0" x2="203.2" y2="1342.6" stroke="#EBEBEB" stroke-width="0.9"/>
<line x1="290.6" y1="772.0" x2="290.6" y2="1342.6" stroke="#EBEBEB" stroke-width="1.4"/>
<line x1="378.1" y1="772.0" x2="378.1" y2="1342.6" stroke="#EBEBEB" stroke-width="0.9"/>
<line x1="465.5" y1="772.0" x2="465.5" y2="1342.6" stroke="#EBEBEB" stroke-width="1.4"/>
<line x1="553" y1="772.0" x2="553" y2="1342.6" stroke="#EBEBEB" stroke-width="0.9"/>
<line x1="640.4" y1="772.0" x2="640.4" y2="1342.6" stroke="#EBEBEB" stroke-width="1.4"/>
<line x1="727.9" y1="772.0" x2="727.9" y2="1342.6" stroke="#EBEBEB" stroke-width="0.9"/>
<line x1="815.3" y1="772.0" x2="815.3" y2="1342.6" stroke="#EBEBEB" stroke-width="1.4"/>
<rect x="115.7" y="796.8" width="433.8" height="545.8" fill="#FAEBD7"/>
<rect x="549.5" y="796.8" width="265.8" height="545.8" fill="#E6E6FA"/>
<rect x="115.7" y="772.0" width="433.8" height="24.8" fill="#D9D9D9"/>
<rect x="549.5" y="772.0" width="265.8" height="24.8" fill="#F5FFFA"/>
<rect x="81.5" y="725" width="767.5" height="46" fill="#fff" stroke="#000" stroke-width="2.2"/>
<text x="465.2" y="756.8" font-size="24" fill="#1A1A1A" text-anchor="middle" stroke="#1A1A1A" stroke-width="0.42">S1</text>
<rect x="81.5" y="771" width="767.5" height="571.6" fill="none" stroke="#000" stroke-width="2.2"/>
<line x1="115.7" y1="1342.6" x2="115.7" y2="1349.6" stroke="#000" stroke-width="2"/>
<text x="115.7" y="1373.5" font-size="24" fill="#1A1A1A" text-anchor="middle" stroke="#1A1A1A" stroke-width="0.42">0.00</text>
<line x1="290.6" y1="1342.6" x2="290.6" y2="1349.6" stroke="#000" stroke-width="2"/>
<text x="290.6" y="1373.5" font-size="24" fill="#1A1A1A" text-anchor="middle" stroke="#1A1A1A" stroke-width="0.42">0.25</text>
<line x1="465.5" y1="1342.6" x2="465.5" y2="1349.6" stroke="#000" stroke-width="2"/>
<text x="465.5" y="1373.5" font-size="24" fill="#1A1A1A" text-anchor="middle" stroke="#1A1A1A" stroke-width="0.42">0.50</text>
<line x1="640.4" y1="1342.6" x2="640.4" y2="1349.6" stroke="#000" stroke-width="2"/>
<text x="640.4" y="1373.5" font-size="24" fill="#1A1A1A" text-anchor="middle" stroke="#1A1A1A" stroke-width="0.42">0.75</text>
<line x1="815.3" y1="1342.6" x2="815.3" y2="1349.6" stroke="#000" stroke-width="2"/>
<text x="815.3" y="1373.5" font-size="24" fill="#1A1A1A" text-anchor="middle" stroke="#1A1A1A" stroke-width="0.42">1.00</text>
<line x1="865" y1="1325.6" x2="1633.3" y2="1325.6" stroke="#EBEBEB" stroke-width="0.9"/>
<line x1="865" y1="1272.7" x2="1633.3" y2="1272.7" stroke="#EBEBEB" stroke-width="1.4"/>
<line x1="865" y1="1219.8" x2="1633.3" y2="1219.8" stroke="#EBEBEB" stroke-width="0.9"/>
<line x1="865" y1="1167" x2="1633.3" y2="1167" stroke="#EBEBEB" stroke-width="1.4"/>
<line x1="865" y1="1114.1" x2="1633.3" y2="1114.1" stroke="#EBEBEB" stroke-width="0.9"/>
<line x1="865" y1="1061.2" x2="1633.3" y2="1061.2" stroke="#EBEBEB" stroke-width="1.4"/>
<line x1="865" y1="1008.3" x2="1633.3" y2="1008.3" stroke="#EBEBEB" stroke-width="0.9"/>
<line x1="865" y1="955.5" x2="1633.3" y2="955.5" stroke="#EBEBEB" stroke-width="1.4"/>
<line x1="865" y1="902.6" x2="1633.3" y2="902.6" stroke="#EBEBEB" stroke-width="0.9"/>
<line x1="865" y1="849.7" x2="1633.3" y2="849.7" stroke="#EBEBEB" stroke-width="1.4"/>
<line x1="865" y1="796.8" x2="1633.3" y2="796.8" stroke="#EBEBEB" stroke-width="0.9"/>
<line x1="899.3" y1="772.0" x2="899.3" y2="1342.6" stroke="#EBEBEB" stroke-width="1.4"/>
<line x1="986.8" y1="772.0" x2="986.8" y2="1342.6" stroke="#EBEBEB" stroke-width="0.9"/>
<line x1="1074.2" y1="772.0" x2="1074.2" y2="1342.6" stroke="#EBEBEB" stroke-width="1.4"/>
<line x1="1161.7" y1="772.0" x2="1161.7" y2="1342.6" stroke="#EBEBEB" stroke-width="0.9"/>
<line x1="1249.1" y1="772.0" x2="1249.1" y2="1342.6" stroke="#EBEBEB" stroke-width="1.4"/>
<line x1="1336.5" y1="772.0" x2="1336.5" y2="1342.6" stroke="#EBEBEB" stroke-width="0.9"/>
<line x1="1424" y1="772.0" x2="1424" y2="1342.6" stroke="#EBEBEB" stroke-width="1.4"/>
<line x1="1511.4" y1="772.0" x2="1511.4" y2="1342.6" stroke="#EBEBEB" stroke-width="0.9"/>
<line x1="1598.9" y1="772.0" x2="1598.9" y2="1342.6" stroke="#EBEBEB" stroke-width="1.4"/>
<rect x="899.3" y="796.8" width="433.8" height="545.8" fill="#FAEBD7"/>
<rect x="1333.1" y="796.8" width="265.8" height="545.8" fill="#E6E6FA"/>
<rect x="899.3" y="772.0" width="433.8" height="24.8" fill="#D9D9D9"/>
<rect x="1333.1" y="772.0" width="265.8" height="24.8" fill="#F5FFFA"/>
<rect x="865" y="725" width="768.3" height="46" fill="#fff" stroke="#000" stroke-width="2.2"/>
<text x="1248.8" y="756.8" font-size="24" fill="#1A1A1A" text-anchor="middle" stroke="#1A1A1A" stroke-width="0.42">S2</text>
<rect x="865" y="771" width="768.3" height="571.6" fill="none" stroke="#000" stroke-width="2.2"/>
<line x1="899.3" y1="1342.6" x2="899.3" y2="1349.6" stroke="#000" stroke-width="2"/>
<text x="899.3" y="1373.5" font-size="24" fill="#1A1A1A" text-anchor="middle" stroke="#1A1A1A" stroke-width="0.42">0.00</text>
<line x1="1074.2" y1="1342.6" x2="1074.2" y2="1349.6" stroke="#000" stroke-width="2"/>
<text x="1074.2" y="1373.5" font-size="24" fill="#1A1A1A" text-anchor="middle" stroke="#1A1A1A" stroke-width="0.42">0.25</text>
<line x1="1249.1" y1="1342.6" x2="1249.1" y2="1349.6" stroke="#000" stroke-width="2"/>
<text x="1249.1" y="1373.5" font-size="24" fill="#1A1A1A" text-anchor="middle" stroke="#1A1A1A" stroke-width="0.42">0.50</text>
<line x1="1424" y1="1342.6" x2="1424" y2="1349.6" stroke="#000" stroke-width="2"/>
<text x="1424" y="1373.5" font-size="24" fill="#1A1A1A" text-anchor="middle" stroke="#1A1A1A" stroke-width="0.42">0.75</text>
<line x1="1598.9" y1="1342.6" x2="1598.9" y2="1349.6" stroke="#000" stroke-width="2"/>
<text x="1598.9" y="1373.5" font-size="24" fill="#1A1A1A" text-anchor="middle" stroke="#1A1A1A" stroke-width="0.42">1.00</text>
<line x1="74.2" y1="849.7" x2="81.5" y2="849.7" stroke="#000" stroke-width="2"/>
<text x="66.6" y="858.3" font-size="24" fill="#1A1A1A" text-anchor="end" stroke="#1A1A1A" stroke-width="0.42">2</text>
<line x1="74.2" y1="955.5" x2="81.5" y2="955.5" stroke="#000" stroke-width="2"/>
<text x="66.6" y="964.1" font-size="24" fill="#1A1A1A" text-anchor="end" stroke="#1A1A1A" stroke-width="0.42">1</text>
<line x1="74.2" y1="1061.2" x2="81.5" y2="1061.2" stroke="#000" stroke-width="2"/>
<text x="66.6" y="1069.8" font-size="24" fill="#1A1A1A" text-anchor="end" stroke="#1A1A1A" stroke-width="0.42">0</text>
<line x1="74.2" y1="1167" x2="81.5" y2="1167" stroke="#000" stroke-width="2"/>
<text x="66.6" y="1175.5" font-size="24" fill="#1A1A1A" text-anchor="end" stroke="#1A1A1A" stroke-width="0.42">−1</text>
<line x1="74.2" y1="1272.7" x2="81.5" y2="1272.7" stroke="#000" stroke-width="2"/>
<text x="66.6" y="1281.3" font-size="24" fill="#1A1A1A" text-anchor="end" stroke="#1A1A1A" stroke-width="0.42">−2</text>
<circle cx="117.2" cy="880.2" r="6.9" fill="#F8766D"/>
<circle cx="117.2" cy="897.8" r="6.9" fill="#F8766D"/>
<circle cx="117.2" cy="915" r="6.9" fill="#F8766D"/>
<circle cx="117.2" cy="949.7" r="6.9" fill="#F8766D"/>
<circle cx="117.2" cy="964.3" r="6.9" fill="#F8766D"/>
<circle cx="117.2" cy="984.3" r="6.9" fill="#F8766D"/>
<circle cx="117.2" cy="1053.4" r="6.9" fill="#F8766D"/>
<circle cx="117.2" cy="1071.2" r="6.9" fill="#F8766D"/>
<circle cx="117.2" cy="1087.8" r="6.9" fill="#F8766D"/>
<circle cx="117.2" cy="1106.1" r="6.9" fill="#F8766D"/>
<circle cx="117.2" cy="1124.8" r="6.9" fill="#F8766D"/>
<circle cx="117.2" cy="1158.1" r="6.9" fill="#F8766D"/>
<circle cx="117.2" cy="1175.2" r="6.9" fill="#F8766D"/>
<circle cx="117.2" cy="1191.4" r="6.9" fill="#F8766D"/>
<circle cx="117.2" cy="996.1" r="6.9" fill="#06BB98"/>
<circle cx="117.2" cy="1005.8" r="6.9" fill="#06BB98"/>
<circle cx="117.2" cy="1016.4" r="6.9" fill="#06BB98"/>
<circle cx="117.2" cy="1035.8" r="6.9" fill="#06BB98"/>
<circle cx="117.2" cy="1045.5" r="6.9" fill="#06BB98"/>
<circle cx="117.2" cy="1137.1" r="6.9" fill="#06BB98"/>
<circle cx="117.2" cy="1196.2" r="6.9" fill="#06BB98"/>
<circle cx="117.2" cy="1276.2" r="6.9" fill="#06BB98"/>
<circle cx="117.2" cy="1286.7" r="6.9" fill="#06BB98"/>
<circle cx="117.2" cy="1296.2" r="6.9" fill="#06BB98"/>
<circle cx="117.2" cy="1306.7" r="6.9" fill="#06BB98"/>
<circle cx="117.2" cy="1316.2" r="6.9" fill="#06BB98"/>
<circle cx="117.2" cy="938.8" r="6.9" fill="#00B6EB"/>
<circle cx="117.2" cy="969.1" r="6.9" fill="#00B6EB"/>
<circle cx="117.2" cy="1121.9" r="6.9" fill="#00B6EB"/>
<circle cx="117.2" cy="1152.4" r="6.9" fill="#00B6EB"/>
<circle cx="117.2" cy="1061.2" r="6.9" fill="#10B860"/>
<circle cx="204.3" cy="949.7" r="6.9" fill="#F8766D"/>
<circle cx="428.2" cy="1123.5" r="6.9" fill="#F8766D"/>
<circle cx="901.1" cy="880.5" r="6.9" fill="#E568F0"/>
<circle cx="1124.6" cy="874.8" r="6.9" fill="#00B6EB"/>
<circle cx="1068.8" cy="914.8" r="6.9" fill="#06BB98"/>
<circle cx="1108.8" cy="921.5" r="6.9" fill="#00B6EB"/>
<circle cx="1124.6" cy="912.7" r="6.9" fill="#F8766D"/>
<circle cx="1194.5" cy="914.8" r="6.9" fill="#06BB98"/>
<circle cx="901.1" cy="935.2" r="6.9" fill="#F8766D"/>
<circle cx="1231.9" cy="932.5" r="6.9" fill="#06BB98"/>
<circle cx="1245.2" cy="957.3" r="6.9" fill="#F8766D"/>
<circle cx="1247.5" cy="979.5" r="6.9" fill="#F8766D"/>
<circle cx="901.1" cy="1001.9" r="6.9" fill="#F8766D"/>
<circle cx="901.1" cy="993.1" r="6.9" fill="#E568F0"/>
<circle cx="1211.4" cy="1001.7" r="6.9" fill="#F8766D"/>
<circle cx="1236.2" cy="1001.7" r="6.9" fill="#F8766D"/>
<circle cx="1062.5" cy="1019.4" r="6.9" fill="#06BB98"/>
<circle cx="1194.5" cy="1023.8" r="6.9" fill="#F8766D"/>
<circle cx="1248.1" cy="1019.4" r="6.9" fill="#06BB98"/>
<circle cx="901.1" cy="1060.4" r="6.9" fill="#C49A00"/>
<circle cx="1108.8" cy="1060.4" r="6.9" fill="#F8766D"/>
<circle cx="1108.8" cy="1060.4" r="6.9" fill="#F766C8"/>
<circle cx="1124.6" cy="1060.4" r="6.9" fill="#00B6EB"/>
<circle cx="1245" cy="1054.3" r="6.9" fill="#06BB98"/>
<circle cx="901.1" cy="1089.6" r="6.9" fill="#06BB98"/>
<circle cx="901.1" cy="1083" r="6.9" fill="#00B6EB"/>
<circle cx="1108.8" cy="1084.3" r="6.9" fill="#00B6EB"/>
<circle cx="1094.8" cy="1090.3" r="6.9" fill="#F8766D"/>
<circle cx="1186.2" cy="1090.4" r="6.9" fill="#F8766D"/>
<circle cx="1235.2" cy="1090.4" r="6.9" fill="#F8766D"/>
<circle cx="1243.3" cy="1089" r="6.9" fill="#06BB98"/>
<circle cx="1038.6" cy="1106.3" r="6.9" fill="#E568F0"/>
<circle cx="1108.9" cy="1107.6" r="6.9" fill="#00B6EB"/>
<circle cx="1339.9" cy="949.7" r="6.9" fill="#06BB98"/>
<circle cx="1350.9" cy="1001.9" r="6.9" fill="#06BB98"/>
<circle cx="1398" cy="1001.9" r="6.9" fill="#06BB98"/>
<circle cx="1364.7" cy="1019.5" r="6.9" fill="#06BB98"/>
<circle cx="1357.6" cy="1054" r="6.9" fill="#06BB98"/>
<circle cx="1375" cy="1054" r="6.9" fill="#06BB98"/>
<circle cx="1369.4" cy="1060.8" r="6.9" fill="#A58AFF"/>
<circle cx="1362.3" cy="1141.9" r="6.9" fill="#06BB98"/>
<circle cx="1350.9" cy="1201.4" r="6.9" fill="#F8766D"/>
<circle cx="1388.8" cy="1211.5" r="6.9" fill="#06BB98"/>
<circle cx="1403.9" cy="1263.9" r="6.9" fill="#06BB98"/>
<circle cx="901" cy="1151.2" r="6.9" fill="#E568F0"/>
<circle cx="901" cy="1179.4" r="6.9" fill="#F8766D"/>
<circle cx="1083.1" cy="1211.6" r="6.9" fill="#06BB98"/>
<circle cx="901" cy="1224" r="6.9" fill="#F8766D"/>
<circle cx="1016.5" cy="1224" r="6.9" fill="#F8766D"/>
<circle cx="901" cy="1293.8" r="6.9" fill="#00B6EB"/>
<text x="1321" y="938.4" font-size="28.7" fill="#06BB98" stroke="#06BB98" stroke-width="0.42">ASV31</text>
<text x="1267.2" y="990.9" font-size="28.7" fill="#06BB98" stroke="#06BB98" stroke-width="0.42">ASV13</text>
<text x="1381.2" y="990.9" font-size="28.7" fill="#06BB98" stroke="#06BB98" stroke-width="0.42">ASV44</text>
<text x="1254.1" y="1043.1" font-size="28.7" fill="#06BB98" stroke="#06BB98" stroke-width="0.42">ASV5</text>
<text x="1375.3" y="1043.1" font-size="28.7" fill="#06BB98" stroke="#06BB98" stroke-width="0.42">ASV59</text>
<text x="1250.7" y="1094.4" font-size="28.7" fill="#A58AFF" stroke="#A58AFF" stroke-width="0.42">ASV183</text>
<text x="1380.4" y="1088.6" font-size="28.7" fill="#06BB98" stroke="#06BB98" stroke-width="0.42">ASV29</text>
<text x="1372.8" y="1136.3" font-size="28.7" fill="#06BB98" stroke="#06BB98" stroke-width="0.42">ASV32</text>
<text x="1277.7" y="1189.7" font-size="28.7" fill="#F0524A" stroke="#F0524A" stroke-width="0.42">ASV6</text>
<text x="1362.4" y="1245.7" font-size="28.7" fill="#06BB98" stroke="#06BB98" stroke-width="0.42">ASV238</text>
<text x="1323.6" y="1297.9" font-size="28.7" fill="#06BB98" stroke="#06BB98" stroke-width="0.42">ASV23</text>
<text x="857" y="1406.3" font-size="29.9" fill="#000" text-anchor="middle" stroke="#000" stroke-width="0.42">Participation Coefficient</text>
<text transform="translate(25.4 1057.6) rotate(-90)" x="0" y="0" font-size="30.1" fill="#000" text-anchor="middle" stroke="#000" stroke-width="0.42">Within−module connectivity z−score</text>
<text x="1677" y="968.5" font-size="29.7" fill="#000" stroke="#000" stroke-width="0.42">Topological roles</text>
<rect x="1679.1" y="987.8" width="43.5" height="42.8" fill="#E6E6FA"/>
<text x="1739" y="1017.1" font-size="23.8" fill="#000" stroke="#000" stroke-width="0.42">Connectors</text>
<rect x="1679.1" y="1034.2" width="43.5" height="42.8" fill="#D9D9D9"/>
<text x="1739" y="1063.5" font-size="23.8" fill="#000" stroke="#000" stroke-width="0.42">Module hubs</text>
<rect x="1679.1" y="1080.6" width="43.5" height="42.8" fill="#F5FFFA"/>
<text x="1739" y="1109.9" font-size="23.8" fill="#000" stroke="#000" stroke-width="0.42">Network hubs</text>
<rect x="1679.1" y="1127" width="43.5" height="42.8" fill="#FAEBD7"/>
<text x="1739" y="1156.3" font-size="23.8" fill="#000" stroke="#000" stroke-width="0.42">peripheral</text>
</svg>
</body></html>
